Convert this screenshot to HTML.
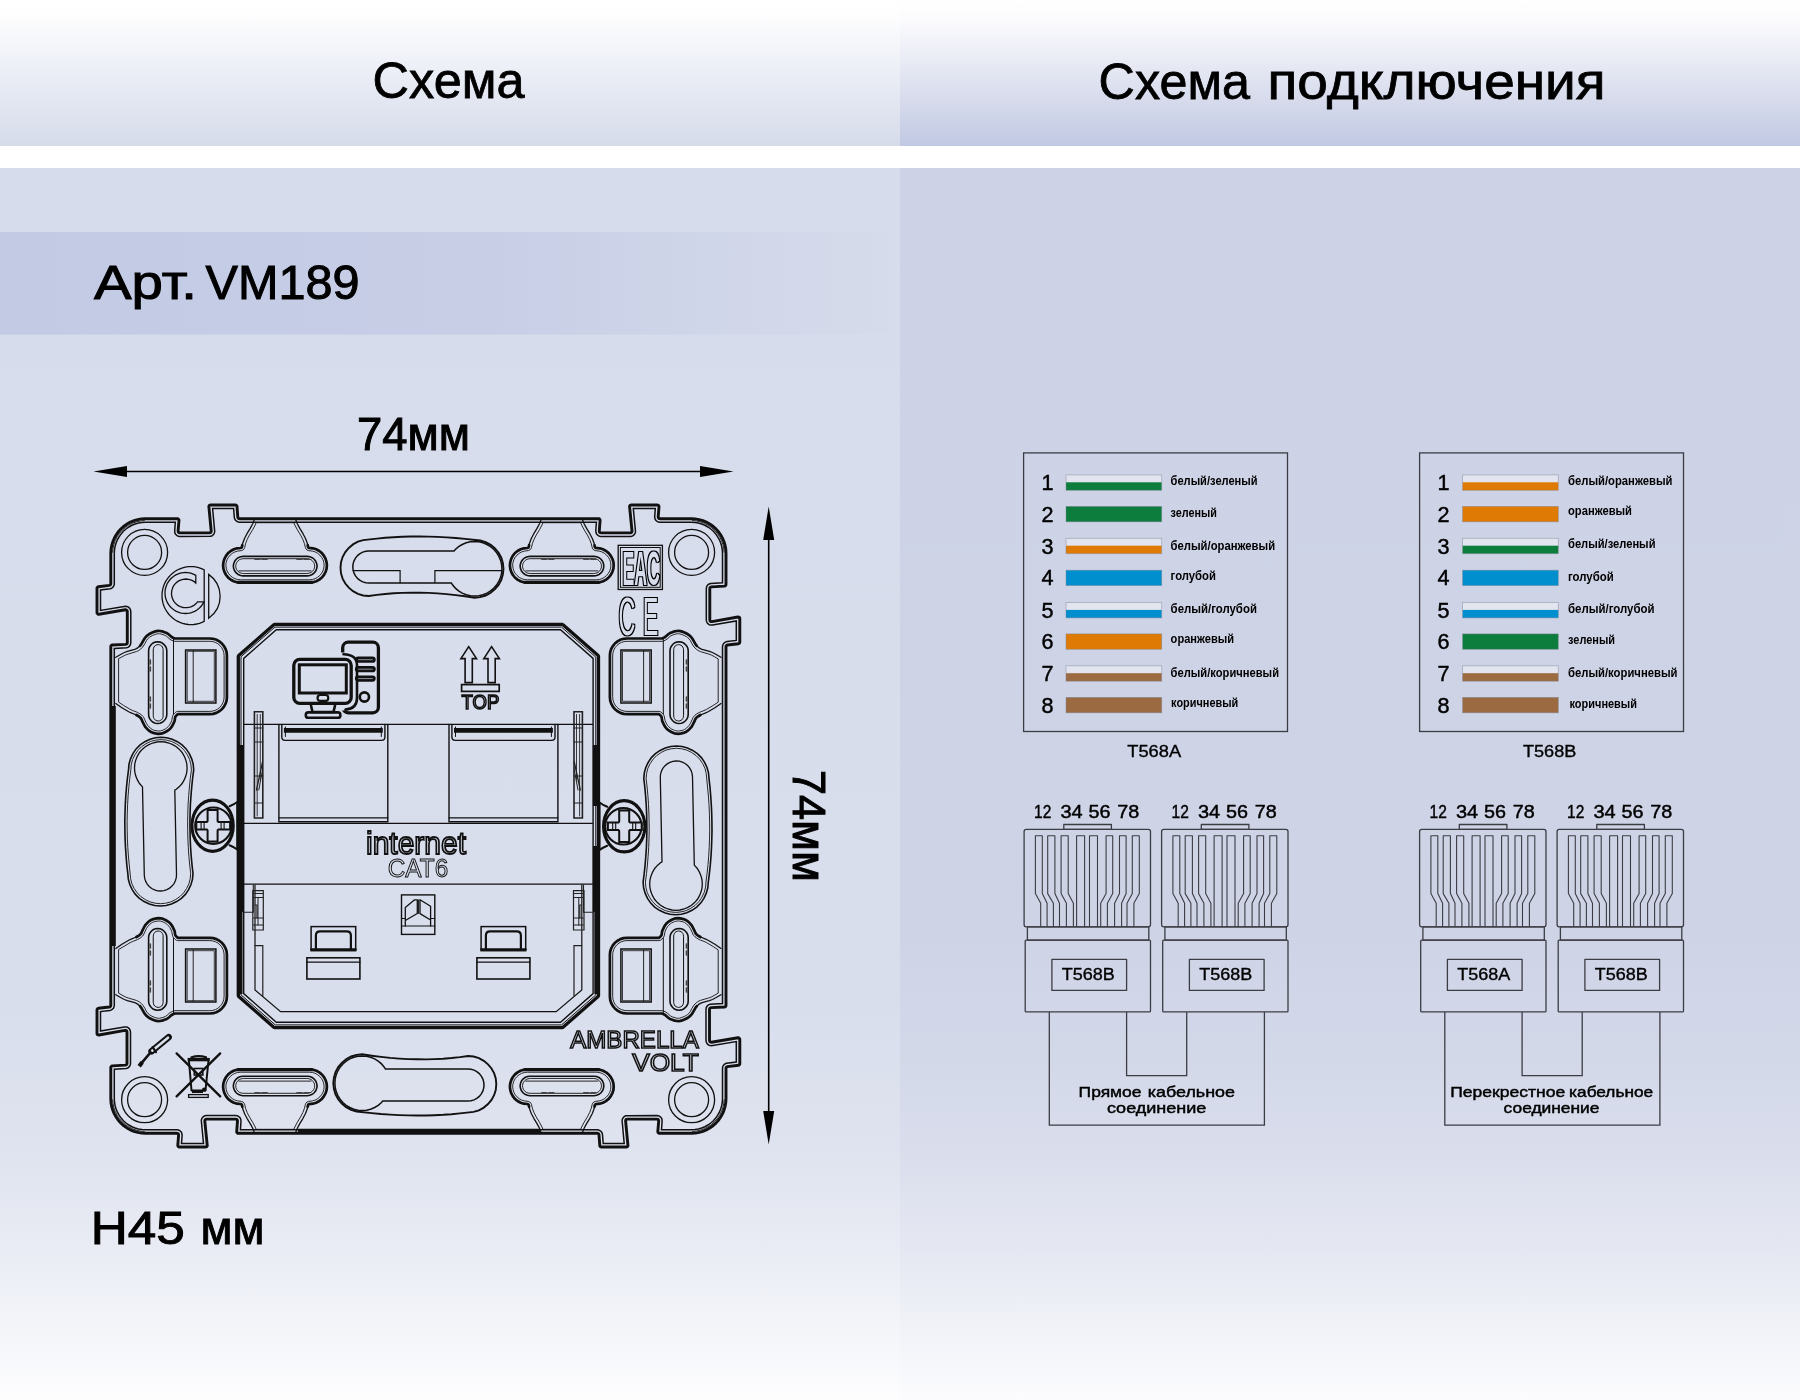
<!DOCTYPE html>
<html lang="ru"><head><meta charset="utf-8"><title>Схема подключения</title>
<style>
html,body{margin:0;padding:0;background:#fff;}
body{width:1800px;height:1400px;overflow:hidden;font-family:"Liberation Sans",sans-serif;}
svg{display:block;}
text{font-family:"Liberation Sans",sans-serif;}
</style></head><body>
<svg width="1800" height="1400" viewBox="0 0 1800 1400">
<defs>
<linearGradient id="hL" x1="0" y1="0" x2="0" y2="1"><stop offset="0" stop-color="#ffffff"/><stop offset="0.12" stop-color="#fdfdfe"/><stop offset="0.5" stop-color="#ebeef6"/><stop offset="1" stop-color="#d6dbea"/></linearGradient>
<linearGradient id="hR" x1="0" y1="0" x2="0" y2="1"><stop offset="0" stop-color="#ffffff"/><stop offset="0.12" stop-color="#fcfcfe"/><stop offset="0.5" stop-color="#e3e6f2"/><stop offset="1" stop-color="#c1c8e2"/></linearGradient>
<linearGradient id="bL" x1="0" y1="0" x2="0" y2="1"><stop offset="0" stop-color="#d7dcec"/><stop offset="0.675" stop-color="#d9deed"/><stop offset="0.797" stop-color="#dfe3ef"/><stop offset="0.878" stop-color="#e9ecf4"/><stop offset="0.935" stop-color="#f2f4f9"/><stop offset="1" stop-color="#fdfdfe"/></linearGradient>
<linearGradient id="bR" x1="0" y1="0" x2="0" y2="1"><stop offset="0" stop-color="#cdd2e6"/><stop offset="0.62" stop-color="#ced4e6"/><stop offset="0.72" stop-color="#d3d8e9"/><stop offset="0.797" stop-color="#d9ddec"/><stop offset="0.878" stop-color="#e5e8f2"/><stop offset="0.935" stop-color="#eff1f7"/><stop offset="1" stop-color="#fcfcfe"/></linearGradient>
<linearGradient id="art" x1="0" y1="0" x2="1" y2="0"><stop offset="0" stop-color="#c3cae4"/><stop offset="0.55" stop-color="#c7cee6"/><stop offset="0.8" stop-color="#d0d6e9"/><stop offset="1" stop-color="#d6dbeb"/></linearGradient>
</defs>
<g id="all" opacity="0.999">
<rect x="0" y="0" width="900" height="146" fill="url(#hL)"/>
<rect x="900" y="0" width="900" height="146" fill="url(#hR)"/>
<rect x="0" y="168" width="900" height="1232" fill="url(#bL)"/>
<rect x="900" y="168" width="900" height="1232" fill="url(#bR)"/>
<rect x="0" y="232" width="888" height="102.6" fill="url(#art)"/>

<g id="titles">
<text x="372.6" y="98" font-size="50" textLength="152" lengthAdjust="spacingAndGlyphs" stroke="#000" stroke-width="0.8">Схема</text>
<text y="99" font-size="50" stroke="#000" stroke-width="0.8"><tspan x="1098.6" textLength="151.4" lengthAdjust="spacingAndGlyphs">Схема</tspan> <tspan x="1267.6" textLength="338" lengthAdjust="spacingAndGlyphs">подключения</tspan></text>
<text y="298.5" font-size="48" stroke="#000" stroke-width="1.0"><tspan x="94" textLength="103" lengthAdjust="spacingAndGlyphs">Арт.</tspan> <tspan x="205.6" textLength="154" lengthAdjust="spacingAndGlyphs">VM189</tspan></text>
<text x="357" y="450" font-size="46" textLength="113" lengthAdjust="spacingAndGlyphs" stroke="#000" stroke-width="1.0">74мм</text>
<g transform="translate(793,770) rotate(90)"><text x="0" y="0" font-size="46" textLength="112" lengthAdjust="spacingAndGlyphs" stroke="#000" stroke-width="1.0">74мм</text></g>
<text y="1243.5" font-size="47" stroke="#000" stroke-width="1.0"><tspan x="90.8" textLength="94" lengthAdjust="spacingAndGlyphs">H45</tspan> <tspan x="200.6" textLength="64" lengthAdjust="spacingAndGlyphs">мм</tspan></text>
</g>
<g id="dims" stroke="#000" stroke-width="1.6" fill="#000">
<line x1="120" y1="471.5" x2="705" y2="471.5"/>
<path d="M93.5 471.5 L127 466 L127 477 Z" stroke="none"/>
<path d="M733.5 471.5 L700 466 L700 477 Z" stroke="none"/>
<line x1="768.7" y1="535" x2="768.7" y2="1115" />
<path d="M768.7 506.5 L763.2 540 L774.2 540 Z" stroke="none"/>
<path d="M768.7 1144.5 L763.2 1111 L774.2 1111 Z" stroke="none"/>
</g>
<g id="device" stroke-linecap="round">
<path d="M97 1033.4 L97.1 1034.1 L97.6 1034.6 L98.2 1034.9 L98.9 1035 L124.9 1030.4 L125.8 1030.4 L126.4 1030.7 L126.8 1031.2 L127 1032.1 L127 1063.3 L126.9 1064.1 L126.5 1064.6 L126.1 1064.9 L125.3 1065.1 L112.3 1065.9 L111.7 1066.1 L111.2 1066.4 L110.9 1066.9 L110.8 1067.5 L110.8 1098.7 L111 1102.7 L111.7 1106.5 L112.7 1110 L114.2 1113.6 L116.1 1117 L118.3 1120.2 L121 1123.2 L123.9 1125.8 L126.9 1127.9 L130.3 1129.8 L133.9 1131.3 L137.8 1132.4 L141.6 1133.1 L145.4 1133.3 L176.9 1133.3 L177.7 1133.5 L178.2 1133.8 L178.5 1134.4 L178.6 1135.2 L177.8 1145.3 L177.9 1145.9 L178.3 1146.5 L178.8 1146.9 L179.4 1147 L205.6 1147 L206.3 1146.9 L206.8 1146.5 L207.2 1145.9 L207.2 1145.2 L204.8 1121 L204.9 1120.2 L205.2 1119.7 L205.7 1119.3 L206.5 1119.1 L235.7 1119.1 L236.5 1119.3 L237 1119.6 L237.4 1120.2 L237.5 1121 L236.7 1131.6 L236.8 1132.2 L237.1 1132.8 L237.7 1133.2 L238.3 1133.3 L597.3 1133.3 L598 1133.4 L598.5 1133.7 L598.8 1134.2 L599 1134.9 L599.8 1145.5 L599.9 1146.1 L600.3 1146.6 L600.8 1146.9 L601.4 1147 L626.3 1147 L627 1146.9 L627.5 1146.5 L627.9 1145.9 L627.9 1145.2 L625.6 1121 L625.7 1120.2 L626 1119.6 L626.5 1119.3 L627.3 1119.1 L656.9 1119.1 L657.7 1119.3 L658.2 1119.6 L658.5 1120.2 L658.7 1121 L657.8 1131.6 L657.9 1132.2 L658.3 1132.8 L658.8 1133.2 L659.4 1133.3 L691.4 1133.3 L695.4 1133.1 L699.2 1132.4 L702.9 1131.3 L706.3 1129.9 L709.7 1128 L713 1125.7 L715.9 1123.1 L718.4 1120.3 L720.7 1117 L722.6 1113.6 L724 1110.2 L725.1 1106.3 L725.8 1102.5 L726 1098.7 L726 1068.4 L726.1 1067.7 L726.4 1067.2 L726.9 1066.8 L727.5 1066.6 L738.4 1065.3 L738.9 1065.1 L739.4 1064.7 L739.7 1064.3 L739.8 1063.7 L739.8 1039.4 L739.7 1038.7 L739.2 1038.2 L738.6 1037.8 L737.9 1037.8 L711.5 1042.2 L710.7 1042.1 L710.1 1041.8 L709.7 1041.3 L709.5 1040.4 L709.5 1009.4 L709.6 1008.6 L710 1008.1 L710.4 1007.8 L711.2 1007.6 L724.5 1007 L725.1 1006.8 L725.6 1006.5 L725.9 1006 L726 1005.4 L726 646.8 L726.1 646.1 L726.4 645.6 L726.9 645.2 L727.5 645 L738.4 643.7 L738.9 643.5 L739.4 643.1 L739.7 642.7 L739.8 642.1 L739.8 618.6 L739.7 617.9 L739.2 617.4 L738.6 617.1 L737.9 617 L711.9 621.6 L711 621.6 L710.4 621.3 L710 620.8 L709.8 619.9 L709.8 588.7 L709.9 587.9 L710.3 587.4 L710.7 587.1 L711.5 586.9 L724.5 586.1 L725.1 585.9 L725.6 585.6 L725.9 585.1 L726 584.5 L726 553.3 L725.8 549.3 L725.1 545.5 L724.1 542 L722.6 538.4 L720.6 534.8 L718.4 531.7 L715.9 528.9 L713 526.3 L709.7 524 L706.3 522.1 L702.9 520.7 L699 519.6 L695.2 518.9 L691.4 518.7 L659.9 518.7 L659.1 518.5 L658.6 518.2 L658.3 517.6 L658.2 516.8 L659 506.7 L658.9 506.1 L658.5 505.5 L658 505.1 L657.4 505 L631.2 505 L630.5 505.1 L630 505.5 L629.6 506.1 L629.6 506.8 L632 531 L631.9 531.8 L631.6 532.3 L631.1 532.7 L630.3 532.9 L601.1 532.9 L600.3 532.7 L599.8 532.4 L599.4 531.8 L599.3 531 L600.1 520.4 L600 519.8 L599.7 519.2 L599.1 518.8 L598.5 518.7 L239.5 518.7 L238.8 518.6 L238.3 518.3 L238 517.8 L237.8 517.1 L237 506.5 L236.9 505.9 L236.5 505.4 L236 505.1 L235.4 505 L210.5 505 L209.8 505.1 L209.3 505.5 L208.9 506.1 L208.9 506.8 L211.2 531 L211.1 531.8 L210.8 532.4 L210.3 532.7 L209.5 532.9 L179.9 532.9 L179.1 532.7 L178.6 532.4 L178.3 531.8 L178.1 531 L179 520.4 L178.9 519.8 L178.5 519.2 L178 518.8 L177.4 518.7 L145.4 518.7 L141.4 518.9 L137.6 519.6 L134.1 520.6 L130.5 522.1 L126.9 524.1 L123.8 526.3 L121 528.8 L118.4 531.7 L116.1 535 L114.3 538.2 L112.8 541.8 L111.7 545.7 L111 549.5 L110.8 553.3 L110.8 583.6 L110.7 584.3 L110.4 584.8 L109.9 585.2 L109.3 585.4 L98.4 586.7 L97.9 586.9 L97.4 587.3 L97.1 587.7 L97 588.3 L97 612.6 L97.1 613.3 L97.6 613.8 L98.2 614.2 L98.9 614.2 L125.3 609.8 L126.1 609.9 L126.7 610.2 L127.1 610.7 L127.3 611.6 L127.3 642.6 L127.2 643.4 L126.8 643.9 L126.4 644.2 L125.6 644.4 L112.3 645 L111.7 645.2 L111.2 645.5 L110.9 646 L110.8 646.6 L110.8 1005.2 L110.7 1005.9 L110.4 1006.4 L109.9 1006.8 L109.3 1007 L98.4 1008.3 L97.9 1008.5 L97.4 1008.9 L97.1 1009.3 L97 1009.9Z" fill="none" stroke="#111" stroke-width="2.9" stroke-linejoin="round"/>
<path d="M100.5 1031.1 L124.3 1026.9 L125.1 1026.9 L126 1026.9 L127.4 1027.3 L128 1027.6 L129.2 1028.6 L129.6 1029.1 L130.2 1030.5 L130.5 1032.1 L130.5 1063.3 L130.3 1064.7 L129.8 1066 L129.5 1066.4 L128.1 1067.8 L126.9 1068.3 L126.2 1068.5 L114.3 1069.3 L114.3 1098.6 L114.5 1102.2 L115.1 1105.6 L116.1 1109 L117.4 1112.2 L119.1 1115.2 L121.1 1118.1 L123.4 1120.7 L126 1123 L128.9 1125 L131.9 1126.7 L135.1 1128 L138.5 1129 L141.9 1129.6 L145.5 1129.8 L176.9 1129.8 L178.4 1130 L179.7 1130.6 L180.2 1131 L181.2 1132 L181.5 1132.6 L182 1133.9 L182.1 1135.5 L181.5 1143.5 L203.5 1143.5 L201.3 1120.6 L201.4 1119.8 L201.9 1118.5 L202.2 1117.9 L203.2 1116.8 L203.7 1116.4 L205 1115.8 L206.5 1115.6 L235.7 1115.6 L237.2 1115.8 L238.5 1116.4 L239 1116.8 L240 1117.8 L240.4 1118.4 L240.8 1119.7 L241 1121.2 L240.4 1129.8 L597.3 1129.8 L598.6 1130 L600.3 1130.8 L601.3 1131.7 L602.2 1133.3 L602.5 1134.7 L603.2 1143.5 L624.2 1143.5 L622.1 1120.6 L622.2 1119.8 L622.7 1118.4 L623 1117.9 L624 1116.8 L624.5 1116.4 L625.8 1115.8 L626.6 1115.7 L656.9 1115.6 L658.4 1115.8 L659.7 1116.4 L660.2 1116.8 L661.2 1117.8 L661.6 1118.4 L662 1119.7 L662.1 1121.3 L661.5 1129.8 L691.3 1129.8 L694.9 1129.6 L698.3 1129 L701.7 1128 L704.9 1126.7 L707.9 1125 L710.8 1123 L713.4 1120.7 L715.7 1118.1 L717.7 1115.2 L719.4 1112.2 L720.7 1109 L721.7 1105.6 L722.3 1102.2 L722.5 1098.6 L722.5 1068.4 L722.7 1067 L723.1 1065.8 L724.3 1064.4 L724.7 1064.1 L725.8 1063.5 L726.5 1063.3 L736.3 1062 L736.3 1041.6 L711.3 1045.7 L710.5 1045.6 L709 1045.2 L708.5 1044.9 L707.3 1043.9 L706.9 1043.4 L706.3 1042 L706 1040.4 L706 1009.4 L706.2 1008 L706.7 1006.7 L707 1006.2 L708.4 1004.9 L709.6 1004.4 L710.3 1004.2 L722.5 1003.6 L722.5 646.8 L722.7 645.4 L723.4 643.8 L724.3 642.8 L725.8 641.9 L727.1 641.5 L736.3 640.4 L736.3 620.9 L712.5 625.1 L711.7 625.1 L710.8 625.1 L709.4 624.7 L708.8 624.4 L707.6 623.4 L707.2 622.9 L706.6 621.5 L706.4 620.7 L706.3 619.9 L706.3 588.7 L706.5 587.3 L707 586 L708.2 584.6 L708.7 584.2 L709.9 583.7 L710.6 583.5 L722.5 582.7 L722.5 553.4 L722.3 549.8 L721.7 546.4 L720.7 543 L719.4 539.8 L717.7 536.8 L715.7 533.9 L713.4 531.3 L710.8 529 L707.9 527 L704.9 525.3 L701.7 524 L698.3 523 L694.9 522.4 L691.3 522.2 L659.9 522.2 L658.4 522 L657.1 521.4 L656.6 521 L655.6 520 L655.3 519.4 L654.8 518.1 L654.7 516.5 L655.3 508.5 L633.3 508.5 L635.5 531.4 L635.4 532.2 L634.9 533.5 L634.6 534.1 L633.6 535.2 L633.1 535.6 L631.8 536.2 L630.3 536.4 L601.1 536.4 L599.6 536.2 L598.3 535.6 L597.8 535.2 L596.8 534.2 L596.4 533.6 L596 532.3 L595.8 530.8 L596.4 522.2 L239.5 522.2 L238.2 522 L236.5 521.2 L235.5 520.3 L234.6 518.7 L234.3 517.3 L233.6 508.5 L212.6 508.5 L214.7 531.4 L214.6 532.2 L214.1 533.6 L213.8 534.1 L212.8 535.2 L212.3 535.6 L211 536.2 L210.2 536.3 L179.9 536.4 L178.4 536.2 L177.1 535.6 L176.6 535.2 L175.6 534.2 L175.2 533.6 L174.8 532.3 L174.7 530.7 L175.3 522.2 L145.5 522.2 L141.9 522.4 L138.5 523 L135.1 524 L131.9 525.3 L128.9 527 L126 529 L123.4 531.3 L121.1 533.9 L119.1 536.8 L117.4 539.8 L116.1 543 L115.1 546.4 L114.5 549.8 L114.3 553.4 L114.3 583.6 L114.1 585 L113.7 586.2 L112.5 587.6 L112.1 587.9 L111 588.5 L110.3 588.7 L100.5 590 L100.5 610.4 L125.5 606.3 L126.3 606.4 L127.8 606.8 L128.3 607.1 L129.5 608.1 L129.9 608.6 L130.5 610 L130.8 611.6 L130.8 642.6 L130.6 644 L130.1 645.3 L128.9 646.7 L128.4 647.1 L127.2 647.6 L126.5 647.8 L114.3 648.4 L114.3 1005.2 L114.1 1006.6 L113.4 1008.2 L112.1 1009.5 L111 1010.1 L109.7 1010.5 L100.5 1011.6Z" fill="none" stroke="#111" stroke-width="1.5"/>
<path d="M112.7 552.2 L113.1 548.1 L114 544.1 L115.4 540.3 L117.3 536.6 L119.6 533.2 L122.3 530.2 L125.3 527.5 L128.7 525.2 L132.4 523.3 L136.2 521.9 L140.2 521 L144.3 520.6" fill="none" stroke="#111" stroke-width="0.9"/>
<path d="M692.5 520.6 L696.6 521 L700.6 521.9 L704.4 523.3 L708.1 525.2 L711.5 527.5 L714.5 530.2 L717.2 533.2 L719.5 536.6 L721.4 540.3 L722.8 544.1 L723.7 548.1 L724.1 552.2" fill="none" stroke="#111" stroke-width="0.9"/>
<path d="M724.1 1099.8 L723.7 1103.9 L722.8 1107.9 L721.4 1111.7 L719.5 1115.4 L717.2 1118.8 L714.5 1121.8 L711.5 1124.5 L708.1 1126.8 L704.4 1128.7 L700.6 1130.1 L696.6 1131 L692.5 1131.4" fill="none" stroke="#111" stroke-width="0.9"/>
<path d="M144.3 1131.4 L140.2 1131 L136.2 1130.1 L132.4 1128.7 L128.7 1126.8 L125.3 1124.5 L122.3 1121.8 L119.6 1118.8 L117.3 1115.4 L115.4 1111.7 L114 1107.9 L113.1 1103.9 L112.7 1099.8" fill="none" stroke="#111" stroke-width="0.9"/>
<path d="M113.3 706 V946" fill="none" stroke="#111" stroke-width="5.0" stroke-linecap="butt"/>
<path d="M298 1130.9 H540" fill="none" stroke="#111" stroke-width="4.4" stroke-linecap="butt"/>
<circle cx="144.6" cy="552.4" r="23" fill="none" stroke="#111" stroke-width="1.3"/>
<circle cx="144.6" cy="552.4" r="17" fill="none" stroke="#111" stroke-width="1.3"/>
<circle cx="691.6" cy="552.4" r="23" fill="none" stroke="#111" stroke-width="1.3"/>
<circle cx="691.6" cy="552.4" r="17" fill="none" stroke="#111" stroke-width="1.3"/>
<circle cx="144.6" cy="1099.7" r="23" fill="none" stroke="#111" stroke-width="1.3"/>
<circle cx="144.6" cy="1099.7" r="17" fill="none" stroke="#111" stroke-width="1.3"/>
<circle cx="691.6" cy="1099.7" r="23" fill="none" stroke="#111" stroke-width="1.3"/>
<circle cx="691.6" cy="1099.7" r="17" fill="none" stroke="#111" stroke-width="1.3"/>
<path d="M240.5 548 L237.1 548.3 L233.9 549.3 L230.7 551 L228.1 553.1 L226 555.8 L224.4 558.8 L223.5 561.8 L223.1 565.2 L223.4 568.6 L224.5 572 L226.1 575 L228.2 577.6 L230.9 579.7 L233.7 581.2 L236.9 582.2 L240.4 582.6 L309.6 582.6 L313.1 582.2 L316.3 581.2 L319.3 579.6 L321.9 577.5 L324 574.8 L325.6 571.8 L326.6 568.6 L326.9 565.2 L326.5 561.8 L325.5 558.6 L324 555.8 L321.9 553.1 L319.3 551 L316.1 549.3 L312.9 548.3 L309 547.9 L308.5 547.6 L308.1 547.1 L307.7 545.2 M242.3 545.2 L241.9 547.1 L241.5 547.6 L241 547.9 L240.5 548" fill="none" stroke="#111" stroke-width="2.7" stroke-linejoin="round"/>
<path d="M307.7 545.2 L307.2 542.9 L305.4 538.2 L303 533.7 L299.8 528.4 L297.3 523.8 L295.9 520.2 M254.1 520.2 L252.7 523.8 L250.2 528.4 L247 533.7 L244.6 538.2 L242.8 542.9 L242.3 545.2" fill="none" stroke="#111" stroke-width="1.3" stroke-linejoin="round"/>
<path d="M225.9 565.3 L226.2 568.1 L227 570.8 L228.4 573.3 L230.2 575.5 L232.4 577.3 L234.9 578.7 L237.6 579.5 L240.5 579.8 L309.5 579.8 L312.4 579.5 L315.1 578.7 L317.6 577.3 L319.8 575.5 L321.6 573.3 L323 570.8 L323.8 568.1 L324.1 565.3 L323.8 562.5 L323 559.8 L321.6 557.3 L319.8 555.1 L317.6 553.3 L315.1 551.9 L312.4 551.1 L308.5 550.6 L307 550 L305.9 548.8 L305.3 547.3 L304.5 543.8 L302.8 539.4 L300.6 535.1 L297.3 529.7 L294.8 525 L293.9 522.7 L256.1 522.7 L255.2 525 L252.7 529.7 L249.4 535.1 L247.2 539.4 L245.5 543.8 L244.7 547.6 L244.1 548.8 L243 550 L241.5 550.6 L237.6 551.1 L234.9 551.9 L232.4 553.3 L230.2 555.1 L228.4 557.3 L227 559.8 L226.2 562.5Z" fill="none" stroke="#111" stroke-width="0.9"/>
<path d="M307.3 575.9 L309.8 575.5 L312.2 574.5 L314.2 573 L315.7 571 L316.7 568.6 L317.1 566.1 L316.7 563.6 L315.7 561.2 L314.2 559.2 L312.2 557.7 L309.8 556.7 L307.3 556.4 L243.1 556.4 L240.6 556.7 L238.2 557.7 L236.2 559.2 L234.7 561.2 L233.7 563.6 L233.3 566.1 L233.7 568.6 L234.7 571 L236.2 573 L238.2 574.5 L240.6 575.5 L243.1 575.9Z" fill="none" stroke="#111" stroke-width="1.6"/>
<path d="M307.3 573.5 L309.2 573.2 L311 572.5 L312.5 571.3 L313.7 569.8 L314.4 568 L314.7 566.1 L314.4 564.2 L313.7 562.4 L312.5 560.9 L311 559.7 L309.2 559 L307.3 558.7 L243.1 558.7 L241.2 559 L239.4 559.7 L237.9 560.9 L236.7 562.4 L236 564.2 L235.7 566.1 L236 568 L236.7 569.8 L237.9 571.3 L239.4 572.5 L241.2 573.2 L243.1 573.5Z" fill="none" stroke="#111" stroke-width="0.9"/>
<path d="M238 582.3 L312 582.3" fill="none" stroke="#111" stroke-width="3.2"/>
<path d="M239 570.9 L311 570.9" fill="none" stroke="#111" stroke-width="0.9"/>
<path d="M255 559.2 L260 559.2" fill="none" stroke="#444" stroke-width="1.6"/>
<path d="M262 559.2 L267 559.2" fill="none" stroke="#444" stroke-width="1.6"/>
<path d="M297 559.2 L302 559.2" fill="none" stroke="#444" stroke-width="1.6"/>
<path d="M304 559.2 L309 559.2" fill="none" stroke="#444" stroke-width="1.6"/>
<path d="M240.5 1104 L237.1 1103.7 L233.9 1102.7 L230.7 1101 L228.1 1098.9 L226.1 1096.4 L224.5 1093.4 L223.5 1090.2 L223.1 1086.8 L223.4 1083.4 L224.5 1080 L226.1 1077 L228.2 1074.4 L230.9 1072.3 L233.7 1070.8 L236.9 1069.8 L240.4 1069.4 L309.6 1069.4 L313.1 1069.8 L316.3 1070.8 L319.3 1072.4 L321.9 1074.5 L324 1077.2 L325.6 1080.2 L326.6 1083.4 L326.9 1086.8 L326.6 1090 L325.6 1093.2 L324 1096.2 L321.9 1098.9 L319.3 1101 L316.1 1102.7 L312.9 1103.7 L309 1104.1 L308.5 1104.4 L308.1 1104.9 L307.7 1106.8 M242.3 1106.8 L241.9 1104.9 L241.5 1104.4 L241 1104.1 L240.5 1104" fill="none" stroke="#111" stroke-width="2.7" stroke-linejoin="round"/>
<path d="M307.7 1106.8 L307.2 1109.1 L305.4 1113.8 L303 1118.3 L299.8 1123.6 L297.3 1128.2 L295.9 1131.8 M254.1 1131.8 L252.7 1128.2 L250.2 1123.6 L247 1118.3 L244.6 1113.8 L242.8 1109.1 L242.3 1106.8" fill="none" stroke="#111" stroke-width="1.3" stroke-linejoin="round"/>
<path d="M225.9 1086.7 L226.2 1089.5 L227 1092.2 L228.4 1094.7 L230.2 1096.9 L232.4 1098.7 L234.9 1100.1 L237.6 1100.9 L241.5 1101.4 L243 1102 L244.1 1103.2 L244.7 1104.4 L245.5 1108.2 L247.2 1112.6 L249.4 1116.9 L252.7 1122.3 L255.2 1127 L256.1 1129.3 L293.9 1129.3 L294.8 1127 L297.3 1122.3 L300.6 1116.9 L302.8 1112.6 L304.5 1108.2 L305.3 1104.7 L305.9 1103.2 L307 1102 L308.5 1101.4 L312.4 1100.9 L315.1 1100.1 L317.6 1098.7 L319.8 1096.9 L321.6 1094.7 L323 1092.2 L323.8 1089.5 L324.1 1086.7 L323.8 1083.9 L323 1081.2 L321.6 1078.7 L319.8 1076.5 L317.6 1074.7 L315.1 1073.3 L312.4 1072.5 L309.5 1072.2 L240.5 1072.2 L237.6 1072.5 L234.9 1073.3 L232.4 1074.7 L230.2 1076.5 L228.4 1078.7 L227 1081.2 L226.2 1083.9Z" fill="none" stroke="#111" stroke-width="0.9"/>
<path d="M307.3 1076.2 L309.8 1076.5 L312.2 1077.5 L314.2 1079 L315.7 1081 L316.7 1083.4 L317.1 1085.9 L316.7 1088.4 L315.7 1090.8 L314.2 1092.8 L312.2 1094.3 L309.8 1095.3 L307.3 1095.7 L243.1 1095.7 L240.6 1095.3 L238.2 1094.3 L236.2 1092.8 L234.7 1090.8 L233.7 1088.4 L233.3 1085.9 L233.7 1083.4 L234.7 1081 L236.2 1079 L238.2 1077.5 L240.6 1076.5 L243.1 1076.2Z" fill="none" stroke="#111" stroke-width="1.6"/>
<path d="M307.3 1078.5 L309.2 1078.8 L311 1079.5 L312.5 1080.7 L313.7 1082.2 L314.4 1084 L314.7 1085.9 L314.4 1087.8 L313.7 1089.6 L312.5 1091.1 L311 1092.3 L309.2 1093 L307.3 1093.3 L243.1 1093.3 L241.2 1093 L239.4 1092.3 L237.9 1091.1 L236.7 1089.6 L236 1087.8 L235.7 1085.9 L236 1084 L236.7 1082.2 L237.9 1080.7 L239.4 1079.5 L241.2 1078.8 L243.1 1078.5Z" fill="none" stroke="#111" stroke-width="0.9"/>
<path d="M238 1069.7 L312 1069.7" fill="none" stroke="#111" stroke-width="3.2"/>
<path d="M239 1081.1 L311 1081.1" fill="none" stroke="#111" stroke-width="0.9"/>
<path d="M255 1092.8 L260 1092.8" fill="none" stroke="#444" stroke-width="1.6"/>
<path d="M262 1092.8 L267 1092.8" fill="none" stroke="#444" stroke-width="1.6"/>
<path d="M297 1092.8 L302 1092.8" fill="none" stroke="#444" stroke-width="1.6"/>
<path d="M304 1092.8 L309 1092.8" fill="none" stroke="#444" stroke-width="1.6"/>
<path d="M527.3 548 L523.9 548.3 L520.7 549.3 L517.5 551 L515 553 L512.9 555.6 L511.3 558.6 L510.3 561.8 L509.9 565.4 L510.3 568.8 L511.3 572 L512.9 575 L514.9 577.5 L517.5 579.6 L520.5 581.2 L523.7 582.2 L527.2 582.6 L596.4 582.6 L599.9 582.2 L603.1 581.2 L606.1 579.6 L608.7 577.5 L610.8 574.8 L612.4 571.8 L613.4 568.6 L613.7 565.2 L613.4 562 L612.4 558.8 L610.8 555.8 L608.7 553.1 L606.1 551 L602.9 549.3 L599.7 548.3 L595.8 547.9 L595.3 547.6 L594.9 547.1 L594.5 545.2 M529.1 545.2 L528.7 547.1 L528.3 547.6 L527.8 547.9 L527.3 548" fill="none" stroke="#111" stroke-width="2.7" stroke-linejoin="round"/>
<path d="M594.5 545.2 L594 542.9 L592.2 538.2 L589.8 533.7 L586.6 528.4 L584.1 523.8 L582.7 520.2 M540.9 520.2 L539.5 523.8 L537 528.4 L533.8 533.7 L531.4 538.2 L529.6 542.9 L529.1 545.2" fill="none" stroke="#111" stroke-width="1.3" stroke-linejoin="round"/>
<path d="M512.7 565.3 L513 568.1 L513.8 570.8 L515.2 573.3 L517 575.5 L519.2 577.3 L521.7 578.7 L524.4 579.5 L527.3 579.8 L596.3 579.8 L599.2 579.5 L601.9 578.7 L604.4 577.3 L606.6 575.5 L608.4 573.3 L609.8 570.8 L610.6 568.1 L610.9 565.3 L610.6 562.5 L609.8 559.8 L608.4 557.3 L606.6 555.1 L604.4 553.3 L601.9 551.9 L599.2 551.1 L595.3 550.6 L593.8 550 L592.7 548.8 L592.1 547.3 L591.3 543.8 L589.6 539.4 L587.4 535.1 L584.1 529.7 L581.6 525 L580.7 522.7 L542.9 522.7 L542 525 L539.5 529.7 L536.2 535.1 L534 539.4 L532.3 543.8 L531.5 547.6 L530.9 548.8 L529.8 550 L528.3 550.6 L524.4 551.1 L521.7 551.9 L519.2 553.3 L517 555.1 L515.2 557.3 L513.8 559.8 L513 562.5Z" fill="none" stroke="#111" stroke-width="0.9"/>
<path d="M594.1 575.9 L596.6 575.5 L599 574.5 L601 573 L602.5 571 L603.5 568.6 L603.8 566.1 L603.5 563.6 L602.5 561.2 L601 559.2 L599 557.7 L596.6 556.7 L594.1 556.4 L529.9 556.4 L527.4 556.7 L525 557.7 L523 559.2 L521.5 561.2 L520.5 563.6 L520.1 566.1 L520.5 568.6 L521.5 571 L523 573 L525 574.5 L527.4 575.5 L529.9 575.9Z" fill="none" stroke="#111" stroke-width="1.6"/>
<path d="M594.1 573.5 L596 573.2 L597.8 572.5 L599.3 571.3 L600.5 569.8 L601.2 568 L601.5 566.1 L601.2 564.2 L600.5 562.4 L599.3 560.9 L597.8 559.7 L596 559 L594.1 558.7 L529.9 558.7 L528 559 L526.2 559.7 L524.7 560.9 L523.5 562.4 L522.8 564.2 L522.5 566.1 L522.8 568 L523.5 569.8 L524.7 571.3 L526.2 572.5 L528 573.2 L529.9 573.5Z" fill="none" stroke="#111" stroke-width="0.9"/>
<path d="M524.8 582.3 L598.8 582.3" fill="none" stroke="#111" stroke-width="3.2"/>
<path d="M525.8 570.9 L597.8 570.9" fill="none" stroke="#111" stroke-width="0.9"/>
<path d="M541.8 559.2 L546.8 559.2" fill="none" stroke="#444" stroke-width="1.6"/>
<path d="M548.8 559.2 L553.8 559.2" fill="none" stroke="#444" stroke-width="1.6"/>
<path d="M583.8 559.2 L588.8 559.2" fill="none" stroke="#444" stroke-width="1.6"/>
<path d="M590.8 559.2 L595.8 559.2" fill="none" stroke="#444" stroke-width="1.6"/>
<path d="M527.3 1104 L523.9 1103.7 L520.7 1102.7 L517.5 1101 L514.9 1098.9 L512.8 1096.2 L511.2 1093.2 L510.3 1090.2 L509.9 1086.6 L510.3 1083.2 L511.3 1080 L512.9 1077 L515 1074.4 L517.5 1072.4 L520.5 1070.8 L523.7 1069.8 L527.2 1069.4 L596.4 1069.4 L599.9 1069.8 L603.1 1070.8 L606.1 1072.4 L608.7 1074.5 L610.8 1077.2 L612.4 1080.2 L613.4 1083.4 L613.7 1086.8 L613.4 1090 L612.4 1093.2 L610.8 1096.2 L608.7 1098.9 L605.9 1101.1 L602.9 1102.7 L599.7 1103.7 L595.8 1104.1 L595.3 1104.4 L594.9 1104.9 L594.5 1106.8 M529.1 1106.8 L528.7 1104.9 L528.3 1104.4 L527.8 1104.1 L527.3 1104" fill="none" stroke="#111" stroke-width="2.7" stroke-linejoin="round"/>
<path d="M594.5 1106.8 L594 1109.1 L592.2 1113.8 L589.8 1118.3 L586.6 1123.6 L584.1 1128.2 L582.7 1131.8 M540.9 1131.8 L539.5 1128.2 L537 1123.6 L533.8 1118.3 L531.4 1113.8 L529.6 1109.1 L529.1 1106.8" fill="none" stroke="#111" stroke-width="1.3" stroke-linejoin="round"/>
<path d="M512.7 1086.7 L513 1089.5 L513.8 1092.2 L515.2 1094.7 L517 1096.9 L519.2 1098.7 L521.7 1100.1 L524.4 1100.9 L528.3 1101.4 L529.8 1102 L530.9 1103.2 L531.5 1104.4 L532.3 1108.2 L534 1112.6 L536.2 1116.9 L539.5 1122.3 L542 1127 L542.9 1129.3 L580.7 1129.3 L581.6 1127 L584.1 1122.3 L587.4 1116.9 L589.6 1112.6 L591.3 1108.2 L592.1 1104.7 L592.7 1103.2 L593.8 1102 L595.3 1101.4 L599.2 1100.9 L601.9 1100.1 L604.4 1098.7 L606.6 1096.9 L608.4 1094.7 L609.8 1092.2 L610.6 1089.5 L610.9 1086.7 L610.6 1083.9 L609.8 1081.2 L608.4 1078.7 L606.6 1076.5 L604.4 1074.7 L601.9 1073.3 L599.2 1072.5 L596.3 1072.2 L527.3 1072.2 L524.4 1072.5 L521.7 1073.3 L519.2 1074.7 L517 1076.5 L515.2 1078.7 L513.8 1081.2 L513 1083.9Z" fill="none" stroke="#111" stroke-width="0.9"/>
<path d="M594.1 1076.2 L596.6 1076.5 L599 1077.5 L601 1079 L602.5 1081 L603.5 1083.4 L603.8 1085.9 L603.5 1088.4 L602.5 1090.8 L601 1092.8 L599 1094.3 L596.6 1095.3 L594.1 1095.7 L529.9 1095.7 L527.4 1095.3 L525 1094.3 L523 1092.8 L521.5 1090.8 L520.5 1088.4 L520.1 1085.9 L520.5 1083.4 L521.5 1081 L523 1079 L525 1077.5 L527.4 1076.5 L529.9 1076.2Z" fill="none" stroke="#111" stroke-width="1.6"/>
<path d="M594.1 1078.5 L596 1078.8 L597.8 1079.5 L599.3 1080.7 L600.5 1082.2 L601.2 1084 L601.5 1085.9 L601.2 1087.8 L600.5 1089.6 L599.3 1091.1 L597.8 1092.3 L596 1093 L594.1 1093.3 L529.9 1093.3 L528 1093 L526.2 1092.3 L524.7 1091.1 L523.5 1089.6 L522.8 1087.8 L522.5 1085.9 L522.8 1084 L523.5 1082.2 L524.7 1080.7 L526.2 1079.5 L528 1078.8 L529.9 1078.5Z" fill="none" stroke="#111" stroke-width="0.9"/>
<path d="M524.8 1069.7 L598.8 1069.7" fill="none" stroke="#111" stroke-width="3.2"/>
<path d="M525.8 1081.1 L597.8 1081.1" fill="none" stroke="#111" stroke-width="0.9"/>
<path d="M541.8 1092.8 L546.8 1092.8" fill="none" stroke="#444" stroke-width="1.6"/>
<path d="M548.8 1092.8 L553.8 1092.8" fill="none" stroke="#444" stroke-width="1.6"/>
<path d="M583.8 1092.8 L588.8 1092.8" fill="none" stroke="#444" stroke-width="1.6"/>
<path d="M590.8 1092.8 L595.8 1092.8" fill="none" stroke="#444" stroke-width="1.6"/>
<path d="M115.8 657.3 L120.6 654.5 L124.3 652.5 L127.4 651.3 L134.7 649.3 L136.4 648.6 L138 647.6 L140.1 645.8" fill="none" stroke="#111" stroke-width="1.3"/>
<path d="M136.4 715 L131.7 713.2 L128.7 711.8 L121.9 707.7 L115.8 703.5" fill="none" stroke="#111" stroke-width="1.3"/>
<path d="M140.1 645.8 L141.6 643.7 L144.3 638.8 L145.7 637 L147.5 635.3 L149.8 633.7 L152.9 632.2 L154.7 631.6 L156.5 631.1 L158.3 630.9 L160.1 631 L161.9 631.3 L163.7 631.9 L166.8 633.1 L168 633.8 L169.1 634.7 L171.6 637 L173.1 637.8 L174.6 638.5 L209.9 638.5 L213.2 638.8 L216.4 639.8 L219.3 641.4 L221.9 643.5 L224 646.1 L225.6 649 L226.6 652.2 L226.9 655.5 L226.9 698 L226.9 697.2 L226.6 700.5 L225.6 703.7 L224 706.6 L221.9 709.2 L219.3 711.3 L216.4 712.9 L213.2 713.9 L209.9 714.2 L177.7 714.2 L176.3 715.5 L175.3 716.8 L175.1 717.6 L174.7 720.6 L174.3 721.7 L172.3 725.8 L171.4 727.2 L170.4 728.4 L168.1 730.4 L165.5 732 L163.1 733.1 L160.8 733.7 L158.3 733.8 L155.4 733.4 L152.4 732.6 L151 732 L149.7 731.2 L147.4 729.2 L145.5 727.1 L144.7 726 L142.5 721.7 L141.5 719.3 L140.7 718 L139.2 716.7 L136.4 715" fill="none" stroke="#111" stroke-width="2.7" stroke-linejoin="round"/>
<path d="M118.6 658.9 L118.6 702.1 L123.4 705.3 L130.1 709.3 L132.8 710.6 L136.3 711.9 L137.7 712.5 L139.9 713.8 L141.8 715.2 L142.9 716.3 L143.7 717.4 L144.7 719.8 L146.5 723.6 L147.7 725.4 L150.4 728.2 L152.3 729.5 L153.4 730 L154.6 730.4 L157.2 730.9 L158.4 731 L160.4 730.9 L162.2 730.4 L163.2 730 L165.4 728.9 L166.5 728.1 L168.3 726.5 L169.1 725.6 L170.6 723.1 L171.7 720.7 L171.9 719.9 L172.4 716.8 L172.6 716 L173.3 714.6 L174.9 712.9 L175.8 712.1 L176.7 711.6 L177.7 711.4 L209.8 711.4 L212.7 711.1 L215.3 710.3 L217.8 709 L219.9 707.2 L221.7 705.1 L223 702.6 L223.8 700 L224.1 697.1 L224.1 655.6 L223.8 652.7 L223 650.1 L221.7 647.6 L219.9 645.5 L217.8 643.7 L215.3 642.4 L212.7 641.6 L209.8 641.3 L174.6 641.3 L173.5 641.1 L170.9 639.9 L169 638.5 L166.4 636.1 L164.3 635.1 L161.2 634.1 L159.7 633.8 L158.4 633.7 L157.1 633.9 L155.6 634.3 L152.5 635.5 L150.1 636.8 L149.3 637.4 L147.7 638.9 L146.6 640.3 L144.9 643.6 L142.8 647 L140.6 649.1 L138.8 650.5 L136.4 651.6 L128.3 654 L125.5 655 L122 656.9Z" fill="none" stroke="#111" stroke-width="0.9"/>
<path d="M148.6 714.4 L148.9 716.8 L149.8 718.9 L151.3 720.8 L153.1 722.3 L155.3 723.2 L157.7 723.5 L160.1 723.2 L162.2 722.3 L164.1 720.8 L165.6 718.9 L166.5 716.8 L166.8 714.4 L166.8 650.9 L166.5 648.5 L165.6 646.4 L164.1 644.5 L162.2 643 L160.1 642.1 L157.7 641.8 L155.3 642.1 L153.1 643 L151.3 644.5 L149.8 646.4 L148.9 648.5 L148.6 650.9Z" fill="none" stroke="#111" stroke-width="1.6"/>
<path d="M153.3 716.1 L153.5 717.4 L154 718.6 L154.7 719.6 L155.8 720.3 L156.9 720.8 L158.2 721 L159.5 720.8 L160.6 720.3 L161.7 719.6 L162.4 718.6 L162.9 717.4 L163.1 716.1 L163.1 649.5 L162.9 648.2 L162.4 647 L161.7 646 L160.6 645.3 L159.5 644.8 L158.2 644.6 L156.9 644.8 L155.8 645.3 L154.7 646 L154 647 L153.5 648.2 L153.3 649.5Z" fill="none" stroke="#111" stroke-width="1.0"/>
<path d="M185.6 650.1 L215.9 650.1 L215.9 702.9 L185.6 702.9Z" fill="none" stroke="#111" stroke-width="1.5"/>
<path d="M187.2 651.7 L187.2 701.3 L214.3 701.3 L214.3 651.7Z" fill="none" stroke="#111" stroke-width="0.8"/>
<path d="M193.2 651 L193.2 702" fill="none" stroke="#111" stroke-width="0.9"/>
<path d="M173.5 639 L173.5 714" fill="none" stroke="#111" stroke-width="1.0"/>
<path d="M150.3 660 L150.3 664" fill="none" stroke="#444" stroke-width="1.6"/>
<path d="M150.3 667 L150.3 671" fill="none" stroke="#444" stroke-width="1.6"/>
<path d="M150.3 697 L150.3 701" fill="none" stroke="#444" stroke-width="1.6"/>
<path d="M150.3 704 L150.3 708" fill="none" stroke="#444" stroke-width="1.6"/>
<path d="M115.8 994.7 L120.6 997.5 L124.3 999.5 L127.4 1000.7 L134.7 1002.7 L136.4 1003.4 L138 1004.4 L140.1 1006.2" fill="none" stroke="#111" stroke-width="1.3"/>
<path d="M136.4 937 L131.7 938.8 L128.7 940.2 L121.9 944.3 L115.8 948.5" fill="none" stroke="#111" stroke-width="1.3"/>
<path d="M140.1 1006.2 L141.6 1008.3 L144.3 1013.2 L145.7 1015 L147.5 1016.7 L149.8 1018.3 L152.9 1019.8 L154.7 1020.4 L156.5 1020.9 L158.3 1021.1 L160.1 1021 L161.9 1020.7 L163.7 1020.1 L166.8 1018.9 L168 1018.2 L169.1 1017.3 L171.6 1015 L173.1 1014.2 L174.6 1013.5 L209.9 1013.5 L213.2 1013.2 L216.4 1012.2 L219.3 1010.6 L221.9 1008.5 L224 1005.9 L225.6 1003 L226.6 999.8 L226.9 996.5 L226.9 954 L226.9 954.8 L226.6 951.5 L225.6 948.3 L224 945.4 L221.9 942.8 L219.3 940.7 L216.4 939.1 L213.2 938.1 L209.9 937.8 L177.7 937.8 L176.3 936.5 L175.3 935.2 L175.1 934.4 L174.7 931.4 L174.3 930.3 L172.3 926.2 L171.4 924.8 L170.4 923.6 L168.1 921.6 L165.5 920 L163.1 918.9 L160.8 918.3 L158.3 918.2 L155.4 918.6 L152.4 919.4 L151 920 L149.7 920.8 L147.4 922.8 L145.5 924.9 L144.7 926 L142.5 930.3 L141.5 932.7 L140.7 934 L139.2 935.3 L136.4 937" fill="none" stroke="#111" stroke-width="2.7" stroke-linejoin="round"/>
<path d="M118.6 949.9 L118.6 993.1 L122 995.1 L125.5 997 L128.3 998 L136.4 1000.4 L137.8 1001 L139.6 1002.1 L141.4 1003.6 L142.9 1005.2 L144.9 1008.4 L146.2 1011.1 L147.1 1012.3 L149.3 1014.6 L151.1 1015.8 L154 1017.2 L155.6 1017.7 L157.1 1018.1 L158.4 1018.3 L159.7 1018.2 L162.8 1017.5 L165.5 1016.4 L167.2 1015.2 L169 1013.5 L170.1 1012.6 L172.6 1011.3 L173.5 1010.9 L174.6 1010.7 L209.8 1010.7 L212.7 1010.4 L215.3 1009.6 L217.8 1008.3 L219.9 1006.5 L221.7 1004.4 L223 1001.9 L223.8 999.3 L224.1 996.4 L224.1 954.9 L223.8 952 L223 949.4 L221.7 946.9 L219.9 944.8 L217.8 943 L215.3 941.7 L212.7 940.9 L209.8 940.6 L177.7 940.6 L176.7 940.4 L175.8 939.9 L174.4 938.6 L173.6 937.8 L172.9 936.6 L172.4 935.2 L171.9 932.1 L171.7 931.3 L169.9 927.6 L168.3 925.5 L167.5 924.7 L165.4 923.1 L164.2 922.5 L162.2 921.6 L160.4 921.1 L159.4 921 L157.2 921.1 L154.6 921.6 L152.3 922.5 L151.3 923.1 L149.4 924.7 L147.7 926.6 L146.5 928.4 L143.4 935 L142.7 936 L141 937.5 L139.8 938.3 L137.5 939.6 L132.8 941.4 L130.1 942.7 L123.4 946.7Z" fill="none" stroke="#111" stroke-width="0.9"/>
<path d="M148.6 937.6 L148.9 935.2 L149.8 933.1 L151.3 931.2 L153.1 929.7 L155.3 928.8 L157.7 928.5 L160.1 928.8 L162.2 929.7 L164.1 931.2 L165.6 933.1 L166.5 935.2 L166.8 937.6 L166.8 1001.1 L166.5 1003.5 L165.6 1005.6 L164.1 1007.5 L162.2 1009 L160.1 1009.9 L157.7 1010.2 L155.3 1009.9 L153.1 1009 L151.3 1007.5 L149.8 1005.6 L148.9 1003.5 L148.6 1001.1Z" fill="none" stroke="#111" stroke-width="1.6"/>
<path d="M153.3 935.9 L153.5 934.6 L154 933.4 L154.7 932.4 L155.8 931.7 L156.9 931.2 L158.2 931 L159.5 931.2 L160.6 931.7 L161.7 932.4 L162.4 933.4 L162.9 934.6 L163.1 935.9 L163.1 1002.5 L162.9 1003.8 L162.4 1005 L161.7 1006 L160.6 1006.7 L159.5 1007.2 L158.2 1007.4 L156.9 1007.2 L155.8 1006.7 L154.7 1006 L154 1005 L153.5 1003.8 L153.3 1002.5Z" fill="none" stroke="#111" stroke-width="1.0"/>
<path d="M185.6 1001.9 L215.9 1001.9 L215.9 949.1 L185.6 949.1Z" fill="none" stroke="#111" stroke-width="1.5"/>
<path d="M187.2 1000.3 L187.2 950.7 L214.3 950.7 L214.3 1000.3Z" fill="none" stroke="#111" stroke-width="0.8"/>
<path d="M193.2 1001 L193.2 950" fill="none" stroke="#111" stroke-width="0.9"/>
<path d="M173.5 1013 L173.5 938" fill="none" stroke="#111" stroke-width="1.0"/>
<path d="M150.3 992 L150.3 988" fill="none" stroke="#444" stroke-width="1.6"/>
<path d="M150.3 985 L150.3 981" fill="none" stroke="#444" stroke-width="1.6"/>
<path d="M150.3 955 L150.3 951" fill="none" stroke="#444" stroke-width="1.6"/>
<path d="M150.3 948 L150.3 944" fill="none" stroke="#444" stroke-width="1.6"/>
<path d="M721 657.3 L716.2 654.5 L712.5 652.5 L709.4 651.3 L702.1 649.3 L700.4 648.6 L698.8 647.6 L696.7 645.8" fill="none" stroke="#111" stroke-width="1.3"/>
<path d="M700.4 715 L705.1 713.2 L708.1 711.8 L714.9 707.7 L721 703.5" fill="none" stroke="#111" stroke-width="1.3"/>
<path d="M696.7 645.8 L695.2 643.7 L692.5 638.8 L691.1 637 L689.3 635.3 L687 633.7 L683.9 632.2 L682.1 631.6 L680.3 631.1 L678.5 630.9 L676.7 631 L674.9 631.3 L673.1 631.9 L670 633.1 L668.8 633.8 L667.7 634.7 L665.2 637 L663.7 637.8 L662.2 638.5 L626.9 638.5 L623.6 638.8 L620.4 639.8 L617.5 641.4 L614.9 643.5 L612.8 646.1 L611.2 649 L610.2 652.2 L609.9 655.5 L609.9 698 L609.9 697.2 L610.2 700.5 L611.2 703.7 L612.8 706.6 L614.9 709.2 L617.5 711.3 L620.4 712.9 L623.6 713.9 L626.9 714.2 L659.1 714.2 L660.5 715.5 L661.5 716.8 L661.7 717.6 L662.1 720.6 L662.5 721.7 L664.5 725.8 L665.4 727.2 L666.4 728.4 L668.7 730.4 L671.3 732 L673.7 733.1 L676 733.7 L678.5 733.8 L681.4 733.4 L684.4 732.6 L685.8 732 L687.1 731.2 L689.4 729.2 L691.3 727.1 L692.1 726 L694.3 721.7 L695.3 719.3 L696.1 718 L697.6 716.7 L700.4 715" fill="none" stroke="#111" stroke-width="2.7" stroke-linejoin="round"/>
<path d="M612.7 697.1 L613 700 L613.8 702.6 L615.1 705.1 L616.9 707.2 L619 709 L621.5 710.3 L624.1 711.1 L627 711.4 L659.1 711.4 L660.1 711.6 L661 712.1 L661.9 712.9 L663.5 714.6 L664.2 716 L664.4 716.8 L664.9 719.9 L665.1 720.7 L666.2 723.1 L667.7 725.6 L668.5 726.5 L670.3 728.1 L671.4 728.9 L673.6 730 L674.6 730.4 L676.4 730.9 L678.4 731 L679.6 730.9 L682.2 730.4 L683.4 730 L684.5 729.5 L686.4 728.2 L689.1 725.4 L690.3 723.6 L692.1 719.8 L693.1 717.4 L693.9 716.3 L695 715.2 L696.9 713.8 L699.1 712.5 L700.5 711.9 L704 710.6 L706.7 709.3 L713.4 705.3 L718.2 702.1 L718.2 658.9 L714.8 656.9 L711.3 655 L708.5 654 L700.4 651.6 L698 650.5 L696.2 649.1 L694 647 L691.9 643.6 L690.2 640.3 L689.1 638.9 L687.5 637.4 L686.7 636.8 L684.3 635.5 L681.2 634.3 L679.7 633.9 L678.4 633.7 L677.1 633.8 L675.6 634.1 L672.5 635.1 L670.4 636.1 L667.8 638.5 L665.9 639.9 L663.3 641.1 L662.2 641.3 L627 641.3 L624.1 641.6 L621.5 642.4 L619 643.7 L616.9 645.5 L615.1 647.6 L613.8 650.1 L613 652.7 L612.7 655.6Z" fill="none" stroke="#111" stroke-width="0.9"/>
<path d="M688.2 714.4 L687.9 716.8 L687 718.9 L685.5 720.8 L683.6 722.3 L681.5 723.2 L679.1 723.5 L676.7 723.2 L674.5 722.3 L672.7 720.8 L671.2 718.9 L670.3 716.8 L670 714.4 L670 650.9 L670.3 648.5 L671.2 646.4 L672.7 644.5 L674.5 643 L676.7 642.1 L679.1 641.8 L681.5 642.1 L683.6 643 L685.5 644.5 L687 646.4 L687.9 648.5 L688.2 650.9Z" fill="none" stroke="#111" stroke-width="1.6"/>
<path d="M683.5 716.1 L683.3 717.4 L682.8 718.6 L682.1 719.6 L681 720.3 L679.9 720.8 L678.6 721 L677.3 720.8 L676.1 720.3 L675.1 719.6 L674.4 718.6 L673.9 717.4 L673.7 716.1 L673.7 649.5 L673.9 648.2 L674.4 647 L675.1 646 L676.1 645.3 L677.3 644.8 L678.6 644.6 L679.9 644.8 L681 645.3 L682.1 646 L682.8 647 L683.3 648.2 L683.5 649.5Z" fill="none" stroke="#111" stroke-width="1.0"/>
<path d="M651.2 650.1 L620.9 650.1 L620.9 702.9 L651.2 702.9Z" fill="none" stroke="#111" stroke-width="1.5"/>
<path d="M649.6 651.7 L649.6 701.3 L622.5 701.3 L622.5 651.7Z" fill="none" stroke="#111" stroke-width="0.8"/>
<path d="M643.6 651 L643.6 702" fill="none" stroke="#111" stroke-width="0.9"/>
<path d="M663.3 639 L663.3 714" fill="none" stroke="#111" stroke-width="1.0"/>
<path d="M686.5 660 L686.5 664" fill="none" stroke="#444" stroke-width="1.6"/>
<path d="M686.5 667 L686.5 671" fill="none" stroke="#444" stroke-width="1.6"/>
<path d="M686.5 697 L686.5 701" fill="none" stroke="#444" stroke-width="1.6"/>
<path d="M686.5 704 L686.5 708" fill="none" stroke="#444" stroke-width="1.6"/>
<path d="M721 994.7 L716.2 997.5 L712.5 999.5 L709.4 1000.7 L702.1 1002.7 L700.4 1003.4 L698.8 1004.4 L696.7 1006.2" fill="none" stroke="#111" stroke-width="1.3"/>
<path d="M700.4 937 L705.1 938.8 L708.1 940.2 L714.9 944.3 L721 948.5" fill="none" stroke="#111" stroke-width="1.3"/>
<path d="M696.7 1006.2 L695.2 1008.3 L692.5 1013.2 L691.1 1015 L689.3 1016.7 L687 1018.3 L683.9 1019.8 L682.1 1020.4 L680.3 1020.9 L678.5 1021.1 L676.7 1021 L674.9 1020.7 L673.1 1020.1 L670 1018.9 L668.8 1018.2 L667.7 1017.3 L665.2 1015 L663.7 1014.2 L662.2 1013.5 L626.9 1013.5 L623.6 1013.2 L620.4 1012.2 L617.5 1010.6 L614.9 1008.5 L612.8 1005.9 L611.2 1003 L610.2 999.8 L609.9 996.5 L609.9 954 L609.9 954.8 L610.2 951.5 L611.2 948.3 L612.8 945.4 L614.9 942.8 L617.5 940.7 L620.4 939.1 L623.6 938.1 L626.9 937.8 L659.1 937.8 L660.5 936.5 L661.5 935.2 L661.7 934.4 L662.1 931.4 L662.5 930.3 L664.5 926.2 L665.4 924.8 L666.4 923.6 L668.7 921.6 L671.3 920 L673.7 918.9 L676 918.3 L678.5 918.2 L681.4 918.6 L684.4 919.4 L685.8 920 L687.1 920.8 L689.4 922.8 L691.3 924.9 L692.1 926 L694.3 930.3 L695.3 932.7 L696.1 934 L697.6 935.3 L700.4 937" fill="none" stroke="#111" stroke-width="2.7" stroke-linejoin="round"/>
<path d="M612.7 954.9 L612.7 996.4 L613 999.3 L613.8 1001.9 L615.1 1004.4 L616.9 1006.5 L619 1008.3 L621.5 1009.6 L624.1 1010.4 L627 1010.7 L662.2 1010.7 L663.3 1010.9 L665.9 1012.1 L667.8 1013.5 L670.4 1015.9 L672.5 1016.9 L675.6 1017.9 L677.1 1018.2 L678.4 1018.3 L679.7 1018.1 L681.2 1017.7 L684.3 1016.5 L686.7 1015.2 L687.5 1014.6 L689.1 1013.1 L690.2 1011.7 L691.9 1008.4 L694 1005 L696.2 1002.9 L698 1001.5 L700.4 1000.4 L708.5 998 L711.3 997 L714.8 995.1 L718.2 993.1 L718.2 949.9 L713.4 946.7 L706.7 942.7 L704 941.4 L700.5 940.1 L699.1 939.5 L696.9 938.2 L695 936.8 L693.9 935.7 L693.1 934.6 L692.1 932.2 L690.3 928.4 L689.1 926.6 L686.4 923.8 L684.5 922.5 L683.4 922 L682.2 921.6 L679.6 921.1 L678.4 921 L676.4 921.1 L674.6 921.6 L673.6 922 L671.4 923.1 L670.3 923.9 L668.5 925.5 L667.7 926.4 L666.2 928.9 L665.1 931.3 L664.9 932.1 L664.4 935.2 L664.2 936 L663.5 937.4 L661.9 939.1 L661 939.9 L660.1 940.4 L659.1 940.6 L627 940.6 L624.1 940.9 L621.5 941.7 L619 943 L616.9 944.8 L615.1 946.9 L613.8 949.4 L613 952Z" fill="none" stroke="#111" stroke-width="0.9"/>
<path d="M688.2 937.6 L687.9 935.2 L687 933.1 L685.5 931.2 L683.6 929.7 L681.5 928.8 L679.1 928.5 L676.7 928.8 L674.5 929.7 L672.7 931.2 L671.2 933.1 L670.3 935.2 L670 937.6 L670 1001.1 L670.3 1003.5 L671.2 1005.6 L672.7 1007.5 L674.5 1009 L676.7 1009.9 L679.1 1010.2 L681.5 1009.9 L683.6 1009 L685.5 1007.5 L687 1005.6 L687.9 1003.5 L688.2 1001.1Z" fill="none" stroke="#111" stroke-width="1.6"/>
<path d="M683.5 935.9 L683.3 934.6 L682.8 933.4 L682.1 932.4 L681 931.7 L679.9 931.2 L678.6 931 L677.3 931.2 L676.1 931.7 L675.1 932.4 L674.4 933.4 L673.9 934.6 L673.7 935.9 L673.7 1002.5 L673.9 1003.8 L674.4 1005 L675.1 1006 L676.1 1006.7 L677.3 1007.2 L678.6 1007.4 L679.9 1007.2 L681 1006.7 L682.1 1006 L682.8 1005 L683.3 1003.8 L683.5 1002.5Z" fill="none" stroke="#111" stroke-width="1.0"/>
<path d="M651.2 1001.9 L620.9 1001.9 L620.9 949.1 L651.2 949.1Z" fill="none" stroke="#111" stroke-width="1.5"/>
<path d="M649.6 1000.3 L649.6 950.7 L622.5 950.7 L622.5 1000.3Z" fill="none" stroke="#111" stroke-width="0.8"/>
<path d="M643.6 1001 L643.6 950" fill="none" stroke="#111" stroke-width="0.9"/>
<path d="M663.3 1013 L663.3 938" fill="none" stroke="#111" stroke-width="1.0"/>
<path d="M686.5 992 L686.5 988" fill="none" stroke="#444" stroke-width="1.6"/>
<path d="M686.5 985 L686.5 981" fill="none" stroke="#444" stroke-width="1.6"/>
<path d="M686.5 955 L686.5 951" fill="none" stroke="#444" stroke-width="1.6"/>
<path d="M686.5 948 L686.5 944" fill="none" stroke="#444" stroke-width="1.6"/>
<path d="M368.7 596 L363.2 595.5 L357.9 593.9 L353 591.2 L348.8 587.7 L345.3 583.5 L342.6 578.6 L341 573.3 L340.5 567.8 L341 562.3 L342.6 557 L345.3 552.1 L348.8 547.9 L353 544.4 L357.9 541.7 L363.2 540.1 L376.9 538.6 L385.2 537.8 L393.6 537.2 L402.2 536.8 L410.8 536.5 L419.6 536.5 L428.5 536.6 L437.5 536.9 L446.6 537.4 L455.8 538 L465.1 538.9 L480.2 540.5 L485.7 542.1 L490.7 544.8 L495 548.4 L498.6 552.7 L501.3 557.7 L502.9 563.2 L503.5 568.8 L502.9 574.4 L501.3 579.9 L498.6 584.9 L495 589.2 L490.7 592.8 L485.7 595.5 L480.2 597.1 L474.6 597.7 L465.1 596.3 L455.8 595.1 L446.6 594.1 L437.5 593.4 L428.5 592.9 L419.6 592.7 L410.8 592.6 L402.2 592.9 L393.6 593.3 L385.2 594 L376.9 594.9Z" fill="none" stroke="#111" stroke-width="1.9"/>
<path d="M368.9 550.9 L365.8 551.2 L362.7 552.1 L360 553.6 L357.5 555.6 L355.5 558.1 L354 560.8 L353.1 563.9 L352.8 567 L353.1 570.1 L354 573.2 L355.5 575.9 L357.5 578.4 L360 580.4 L362.7 581.9 L365.8 582.8 L368.9 583.1 L451.4 583.1 L452.5 584.8 L455.3 588.1 L458.6 590.9 L462.2 593.1 L466.2 594.8 L470.3 595.8 L474.6 596.1 L478.9 595.8 L483 594.8 L487 593.1 L490.6 590.9 L493.9 588.1 L496.7 584.8 L498.9 581.2 L500.6 577.2 L501.6 573.1 L501.9 568.8 L501.6 564.5 L500.6 560.4 L498.9 556.4 L496.7 552.8 L493.9 549.5 L490.6 546.7 L487 544.5 L483 542.8 L478.9 541.8 L474.6 541.5 L470.3 541.8 L466.2 542.8 L462.2 544.5 L458.6 546.7 L455.3 549.5 L454.1 550.9Z" fill="none" stroke="#111" stroke-width="1.5"/>
<path d="M353.2 570.6 L400.1 570.6 L400.1 582.6" fill="none" stroke="#111" stroke-width="1.2"/>
<path d="M434.9 582.6 L434.9 570.6 L501.8 570.6" fill="none" stroke="#111" stroke-width="1.2"/>
<path d="M468.1 1056 L473.6 1056.5 L478.9 1058.1 L483.8 1060.8 L488 1064.3 L491.5 1068.5 L494.2 1073.4 L495.8 1078.7 L496.3 1084.2 L495.8 1089.7 L494.2 1095 L491.5 1099.9 L488 1104.1 L483.8 1107.6 L478.9 1110.3 L473.6 1111.9 L459.9 1113.4 L451.6 1114.2 L443.2 1114.8 L434.6 1115.2 L426 1115.5 L417.2 1115.5 L408.3 1115.4 L399.3 1115.1 L390.2 1114.6 L381 1114 L371.7 1113.1 L356.6 1111.5 L351.1 1109.9 L346.1 1107.2 L341.8 1103.6 L338.2 1099.3 L335.5 1094.3 L333.9 1088.8 L333.3 1083.2 L333.9 1077.6 L335.5 1072.1 L338.2 1067.1 L341.8 1062.8 L346.1 1059.2 L351.1 1056.5 L356.6 1054.9 L362.2 1054.3 L371.7 1055.7 L381 1056.9 L390.2 1057.9 L399.3 1058.6 L408.3 1059.1 L417.2 1059.3 L426 1059.4 L434.6 1059.1 L443.2 1058.7 L451.6 1058 L459.9 1057.1Z" fill="none" stroke="#111" stroke-width="1.9"/>
<path d="M467.9 1101.1 L471 1100.8 L474.1 1099.9 L476.8 1098.4 L479.3 1096.4 L481.3 1093.9 L482.8 1091.2 L483.7 1088.1 L484 1085 L483.7 1081.9 L482.8 1078.8 L481.3 1076.1 L479.3 1073.6 L476.8 1071.6 L474.1 1070.1 L471 1069.2 L467.9 1068.9 L385.4 1068.9 L384.3 1067.2 L381.5 1063.9 L378.2 1061.1 L374.6 1058.9 L370.6 1057.2 L366.5 1056.2 L362.2 1055.9 L357.9 1056.2 L353.8 1057.2 L349.8 1058.9 L346.2 1061.1 L342.9 1063.9 L340.1 1067.2 L337.9 1070.8 L336.2 1074.8 L335.2 1078.9 L334.9 1083.2 L335.2 1087.5 L336.2 1091.6 L337.9 1095.6 L340.1 1099.2 L342.9 1102.5 L346.2 1105.3 L349.8 1107.5 L353.8 1109.2 L357.9 1110.2 L362.2 1110.5 L366.5 1110.2 L370.6 1109.2 L374.6 1107.5 L378.2 1105.3 L381.5 1102.5 L382.7 1101.1Z" fill="none" stroke="#111" stroke-width="1.5"/>
<path d="M128.5 769.9 L129 764.2 L130.5 758.8 L132.9 753.6 L136.1 748.9 L140.1 744.9 L144.8 741.7 L150 739.3 L155.4 737.8 L161.1 737.3 L166.8 737.8 L172.2 739.3 L177.4 741.7 L182.1 744.9 L186.1 748.9 L189.3 753.6 L191.7 758.8 L193.2 764.2 L193.7 769.9 L192.6 778.5 L191.7 787.1 L191 795.8 L190.4 804.4 L190.1 813 L189.9 821.6 L190 830.3 L190.2 838.9 L190.6 847.5 L191.2 856.1 L192 864.8 L193 873.4 L192.5 879.1 L191 884.5 L188.6 889.7 L185.4 894.4 L181.4 898.4 L176.7 901.6 L171.5 904 L166.1 905.5 L160.4 906 L154.7 905.5 L149.3 904 L144.1 901.6 L139.4 898.4 L135.4 894.4 L132.2 889.7 L129.8 884.5 L128.3 879.1 L127.8 873.4 L126.8 864.8 L126.1 856.1 L125.5 847.5 L125.1 838.9 L124.9 830.3 L124.8 821.6 L125 813 L125.3 804.4 L125.8 795.8 L126.5 787.1 L127.4 778.5Z" fill="none" stroke="#111" stroke-width="1.6"/>
<path d="M130.8 770.2 L129.7 778.8 L128.8 787.4 L128.1 795.9 L127.6 804.5 L127.3 813.1 L127.1 821.7 L127.2 830.2 L127.4 838.8 L127.8 847.4 L128.4 856 L130.6 878.7 L131.9 883.8 L134.2 888.5 L137.2 892.9 L140.9 896.6 L145.3 899.6 L150 901.9 L155.1 903.2 L160.4 903.7 L165.7 903.2 L170.8 901.9 L175.5 899.6 L179.9 896.6 L183.6 892.9 L186.6 888.5 L188.9 883.8 L190.2 878.7 L190.7 873.4 L189.7 865 L188.9 856.4 L188.3 847.7 L187.9 839 L187.7 830.3 L187.6 821.6 L187.8 813 L188.1 804.3 L188.7 795.6 L189.4 787 L190.3 778.3 L191.4 769.9 L190.9 764.6 L189.6 759.5 L187.3 754.8 L184.3 750.4 L180.6 746.7 L176.2 743.7 L171.5 741.4 L166.4 740.1 L161.1 739.6 L155.8 740.1 L150.7 741.4 L146 743.7 L141.6 746.7 L137.9 750.4 L134.9 754.8 L132.6 759.5 L131.3 764.6Z" fill="none" stroke="#111" stroke-width="0.9"/>
<path d="M186.8 763.9 L185.8 759.9 L184.2 756.1 L182.1 752.5 L179.4 749.4 L176.3 746.7 L172.7 744.6 L168.9 743 L164.9 742 L160.8 741.7 L156.7 742 L152.7 743 L148.9 744.6 L145.3 746.7 L142.2 749.4 L139.5 752.5 L137.4 756.1 L135.8 759.9 L134.8 763.9 L134.5 768 L134.8 772.1 L135.8 776.1 L137.4 779.9 L139.5 783.5 L142.5 786.9 L144.3 875.2 L144.7 878.4 L145.7 881.4 L147.2 884.1 L149.2 886.5 L151.7 888.5 L154.5 889.9 L157.6 890.8 L160.7 891 L163.9 890.6 L166.9 889.6 L169.6 888.1 L172 886.1 L174 883.6 L175.4 880.8 L176.3 877.7 L176.5 874.6 L174.8 790.2 L176.3 789.3 L179.4 786.6 L182.1 783.5 L184.2 779.9 L185.8 776.1 L186.8 772.1 L187.1 768Z" fill="none" stroke="#111" stroke-width="1.3"/>
<path d="M708.3 882.1 L707.8 887.8 L706.3 893.2 L703.9 898.4 L700.7 903.1 L696.7 907.1 L692 910.3 L686.8 912.7 L681.4 914.2 L675.7 914.7 L670 914.2 L664.6 912.7 L659.4 910.3 L654.7 907.1 L650.7 903.1 L647.5 898.4 L645.1 893.2 L643.6 887.8 L643.1 882.1 L644.2 873.5 L645.1 864.9 L645.8 856.2 L646.4 847.6 L646.7 839 L646.9 830.4 L646.8 821.7 L646.6 813.1 L646.2 804.5 L645.6 795.9 L644.8 787.2 L643.8 778.6 L644.3 772.9 L645.8 767.5 L648.2 762.3 L651.4 757.6 L655.4 753.6 L660.1 750.4 L665.3 748 L670.7 746.5 L676.4 746 L682.1 746.5 L687.5 748 L692.7 750.4 L697.4 753.6 L701.4 757.6 L704.6 762.3 L707 767.5 L708.5 772.9 L709 778.6 L710 787.2 L710.7 795.9 L711.3 804.5 L711.7 813.1 L711.9 821.7 L712 830.4 L711.8 839 L711.5 847.6 L711 856.2 L710.3 864.9 L709.4 873.5Z" fill="none" stroke="#111" stroke-width="1.6"/>
<path d="M706 881.8 L707.1 873.2 L708 864.6 L708.7 856.1 L709.2 847.5 L709.5 838.9 L709.7 830.3 L709.6 821.8 L709.4 813.2 L709 804.6 L708.4 796 L706.2 773.3 L704.9 768.2 L702.6 763.5 L699.6 759.1 L695.9 755.4 L691.5 752.4 L686.8 750.1 L681.7 748.8 L676.4 748.3 L671.1 748.8 L666 750.1 L661.3 752.4 L656.9 755.4 L653.2 759.1 L650.2 763.5 L647.9 768.2 L646.6 773.3 L646.1 778.6 L647.1 787 L647.9 795.6 L648.5 804.3 L648.9 813 L649.1 821.7 L649.2 830.4 L649 839 L648.7 847.7 L648.1 856.4 L647.4 865 L646.5 873.7 L645.4 882.1 L645.9 887.4 L647.2 892.5 L649.5 897.2 L652.5 901.6 L656.2 905.3 L660.6 908.3 L665.3 910.6 L670.4 911.9 L675.7 912.4 L681 911.9 L686.1 910.6 L690.8 908.3 L695.2 905.3 L698.9 901.6 L701.9 897.2 L704.2 892.5 L705.5 887.4Z" fill="none" stroke="#111" stroke-width="0.9"/>
<path d="M650 888.1 L651 892.1 L652.6 895.9 L654.7 899.5 L657.4 902.6 L660.5 905.3 L664.1 907.4 L667.9 909 L671.9 910 L676 910.3 L680.1 910 L684.1 909 L687.9 907.4 L691.5 905.3 L694.6 902.6 L697.3 899.5 L699.4 895.9 L701 892.1 L702 888.1 L702.3 884 L702 879.9 L701 875.9 L699.4 872.1 L697.3 868.5 L694.3 865.1 L692.5 776.8 L692.1 773.6 L691.1 770.6 L689.6 767.9 L687.6 765.5 L685.1 763.5 L682.3 762.1 L679.2 761.2 L676.1 761 L672.9 761.4 L669.9 762.4 L667.2 763.9 L664.8 765.9 L662.8 768.4 L661.4 771.2 L660.5 774.3 L660.3 777.4 L662 861.8 L660.5 862.7 L657.4 865.4 L654.7 868.5 L652.6 872.1 L651 875.9 L650 879.9 L649.7 884Z" fill="none" stroke="#111" stroke-width="1.3"/>
<path d="M274.8 624.4 L273.8 624.8 L238.7 655.5 L238.4 656 L238.3 656.5 L238.3 995.5 L238.4 996 L238.7 996.5 L273.8 1027.2 L274.8 1027.6 L562 1027.6 L563 1027.2 L598.1 996.5 L598.4 996 L598.5 995.5 L598.5 656.5 L598.4 656 L598.1 655.5 L563 624.8 L562 624.4Z" fill="none" stroke="#111" stroke-width="3.3" stroke-linejoin="round"/>
<path d="M241 657.1 L241 994.9 L275.3 1024.9 L561.5 1024.9 L595.8 994.9 L595.8 657.1 L561.5 627.1 L275.3 627.1Z" fill="none" stroke="#111" stroke-width="1.0"/>
<path d="M243.7 658.4 L243.7 993.6 L276.3 1022.2 L560.5 1022.2 L593.1 993.6 L593.1 658.4 L560.5 629.8 L276.3 629.8Z" fill="none" stroke="#111" stroke-width="1.4"/>
<path d="M241.0 745 V912" fill="none" stroke="#111" stroke-width="5.8" stroke-linecap="butt"/>
<path d="M240.3 910 V994" fill="none" stroke="#111" stroke-width="4.4" stroke-linecap="butt"/>
<path d="M595.8 745 V806 M595.8 846 V912" fill="none" stroke="#111" stroke-width="5.8" stroke-linecap="butt"/>
<path d="M596.5 910 V994" fill="none" stroke="#111" stroke-width="4.4" stroke-linecap="butt"/>
<path d="M244.3 724.4 H592.5" fill="none" stroke="#111" stroke-width="1.3"/>
<path d="M244.3 823.3 H592.5" fill="none" stroke="#111" stroke-width="1.3"/>
<path d="M244.3 884.2 H592.5" fill="none" stroke="#111" stroke-width="1.3"/>
<path d="M278.9 724.4 V821.7 H387.8 V724.4" fill="none" stroke="#111" stroke-width="1.4"/>
<path d="M278.9 817.8 H387.8" fill="none" stroke="#111" stroke-width="1.3"/>
<path d="M281.8 724.4 V737 Q281.8 740.4 285.2 740.4 H381.5 Q384.9 740.4 384.9 737 V724.4" fill="none" stroke="#111" stroke-width="1.4"/>
<path d="M283.9 730.4 H382.8" fill="none" stroke="#111" stroke-width="4.6" stroke-linecap="butt"/>
<path d="M285.4 727 V736.5 M381.3 727 V736.5" fill="none" stroke="#111" stroke-width="1.0"/>
<path d="M448.99999999999994 724.4 V821.7 H557.9 V724.4" fill="none" stroke="#111" stroke-width="1.4"/>
<path d="M448.99999999999994 817.8 H557.9" fill="none" stroke="#111" stroke-width="1.3"/>
<path d="M451.9 724.4 V737 Q451.9 740.4 455.3 740.4 H551.6 Q555.0 740.4 555.0 737 V724.4" fill="none" stroke="#111" stroke-width="1.4"/>
<path d="M454.0 730.4 H552.9" fill="none" stroke="#111" stroke-width="4.6" stroke-linecap="butt"/>
<path d="M455.5 727 V736.5 M551.4 727 V736.5" fill="none" stroke="#111" stroke-width="1.0"/>
<path d="M254.4 724.4 L254.4 711.7 L262.8 711.7 L262.8 818 L254.4 818 L254.4 724.4" fill="none" stroke="#222" stroke-width="1.6"/>
<path d="M257.2 714.5 L257.2 816" fill="none" stroke="#222" stroke-width="0.9"/>
<path d="M260.3 714.5 L260.3 780" fill="none" stroke="#222" stroke-width="0.9"/>
<path d="M254.4 728 L262.8 728" fill="none" stroke="#222" stroke-width="1.0"/>
<path d="M254.4 742 L262.8 742" fill="none" stroke="#222" stroke-width="1.0"/>
<path d="M254.4 776 L262.8 776" fill="none" stroke="#222" stroke-width="1.0"/>
<path d="M254.4 803 L262.8 803" fill="none" stroke="#222" stroke-width="1.0"/>
<path d="M262.5 762 L256.5 790" fill="none" stroke="#222" stroke-width="1.3"/>
<path d="M262.5 770 L258.8 790" fill="none" stroke="#222" stroke-width="1.0"/>
<path d="M582.4 724.4 L582.4 711.7 L574 711.7 L574 818 L582.4 818 L582.4 724.4" fill="none" stroke="#222" stroke-width="1.6"/>
<path d="M579.6 714.5 L579.6 816" fill="none" stroke="#222" stroke-width="0.9"/>
<path d="M576.5 714.5 L576.5 780" fill="none" stroke="#222" stroke-width="0.9"/>
<path d="M582.4 728 L574 728" fill="none" stroke="#222" stroke-width="1.0"/>
<path d="M582.4 742 L574 742" fill="none" stroke="#222" stroke-width="1.0"/>
<path d="M582.4 776 L574 776" fill="none" stroke="#222" stroke-width="1.0"/>
<path d="M582.4 803 L574 803" fill="none" stroke="#222" stroke-width="1.0"/>
<path d="M574.3 762 L580.3 790" fill="none" stroke="#222" stroke-width="1.3"/>
<path d="M574.3 770 L578 790" fill="none" stroke="#222" stroke-width="1.0"/>
<path d="M255 885 V990 L280.6 1011.6 H556.2 L581.8 990 V885" fill="none" stroke="#111" stroke-width="1.2"/>
<path d="M244.3 912.2 L253.3 912.2 L253.3 885" fill="none" stroke="#222" stroke-width="1.1"/>
<path d="M252.8 890.6 L263.3 890.6 L263.3 930 L252.8 930Z" fill="none" stroke="#222" stroke-width="1.2"/>
<path d="M253.5 893.5 L262.8 893.5" fill="none" stroke="#222" stroke-width="1.0"/>
<path d="M253.5 897.5 L262.8 897.5" fill="none" stroke="#222" stroke-width="1.0"/>
<path d="M253.5 918 L262.8 918" fill="none" stroke="#222" stroke-width="1.0"/>
<path d="M253.5 925 L262.8 925" fill="none" stroke="#222" stroke-width="1.0"/>
<path d="M258 898 L258 925" fill="none" stroke="#222" stroke-width="1.0"/>
<path d="M255.2 905 L257 905 L257 918" fill="none" stroke="#222" stroke-width="1.2"/>
<path d="M255 945.6 L262.8 945.6 L262.8 996" fill="none" stroke="#222" stroke-width="1.2"/>
<path d="M592.5 912.2 L583.5 912.2 L583.5 885" fill="none" stroke="#222" stroke-width="1.1"/>
<path d="M584 890.6 L573.5 890.6 L573.5 930 L584 930Z" fill="none" stroke="#222" stroke-width="1.2"/>
<path d="M583.3 893.5 L574 893.5" fill="none" stroke="#222" stroke-width="1.0"/>
<path d="M583.3 897.5 L574 897.5" fill="none" stroke="#222" stroke-width="1.0"/>
<path d="M583.3 918 L574 918" fill="none" stroke="#222" stroke-width="1.0"/>
<path d="M583.3 925 L574 925" fill="none" stroke="#222" stroke-width="1.0"/>
<path d="M578.8 898 L578.8 925" fill="none" stroke="#222" stroke-width="1.0"/>
<path d="M581.6 905 L579.8 905 L579.8 918" fill="none" stroke="#222" stroke-width="1.2"/>
<path d="M581.8 945.6 L574 945.6 L574 996" fill="none" stroke="#222" stroke-width="1.2"/>
<rect x="311.1" y="926.6" width="44.6" height="24.1" fill="none" stroke="#111" stroke-width="1.5"/>
<path d="M315.9 950 V935.5 Q315.9 931.3 320.1 931.3 H346.7 Q350.9 931.3 350.9 935.5 V950" fill="none" stroke="#111" stroke-width="2.2"/>
<path d="M311.1 949.4 H355.7" fill="none" stroke="#111" stroke-width="2.2"/>
<rect x="306.9" y="957.8" width="53" height="21.2" fill="none" stroke="#111" stroke-width="1.6"/>
<path d="M306.9 962.2 H359.9" fill="none" stroke="#111" stroke-width="1.3"/>
<rect x="481.1" y="926.6" width="44.6" height="24.1" fill="none" stroke="#111" stroke-width="1.5"/>
<path d="M485.9 950 V935.5 Q485.9 931.3 490.1 931.3 H516.7 Q520.9 931.3 520.9 935.5 V950" fill="none" stroke="#111" stroke-width="2.2"/>
<path d="M481.1 949.4 H525.7" fill="none" stroke="#111" stroke-width="2.2"/>
<rect x="476.9" y="957.8" width="53" height="21.2" fill="none" stroke="#111" stroke-width="1.6"/>
<path d="M476.9 962.2 H529.9" fill="none" stroke="#111" stroke-width="1.3"/>
<rect x="401.5" y="894.9" width="33.3" height="39.5" fill="none" stroke="#111" stroke-width="1.4"/>
<path d="M401.5 926 H434.8" fill="none" stroke="#111" stroke-width="1.2"/>
<path d="M405.3 926 V907.5 L414.6 899.8 H417.3 V913.5 L405.3 920.5" fill="none" stroke="#111" stroke-width="1.3" stroke-linejoin="round"/>
<path d="M430.6 926 V906.2 L420 899.8 V913.6 L430.6 920" fill="none" stroke="#111" stroke-width="1.3" stroke-linejoin="round"/>
<path d="M401.5 918.5 H405.3 M430.6 918.5 H434.8" fill="none" stroke="#111" stroke-width="1.1"/>
<path d="M418.6 899.8 V913.6" fill="none" stroke="#111" stroke-width="1.0"/>
<text x="366" y="853.6" font-size="31" textLength="100" lengthAdjust="spacingAndGlyphs" stroke="#111" stroke-width="1.8" fill="#d9deec">internet</text>
<text x="387.8" y="876.6" font-size="26.4" textLength="60.4" lengthAdjust="spacingAndGlyphs" stroke="#111" stroke-width="1.0" fill="#d9deec">CAT6</text>
<path d="M465.1 682.6 V658.6 H460.9 L468.7 646.6 L476.5 658.6 H472.3 V682.6 Z" fill="none" stroke="#111" stroke-width="1.6" stroke-linejoin="miter"/>
<path d="M488.0 682.6 V658.6 H483.8 L491.6 646.6 L499.4 658.6 H495.2 V682.6 Z" fill="none" stroke="#111" stroke-width="1.6" stroke-linejoin="miter"/>
<rect x="461.6" y="684.6" width="37.6" height="6.8" fill="none" stroke="#111" stroke-width="1.7"/>
<text x="461.6" y="708.9" font-size="20" textLength="37.8" lengthAdjust="spacingAndGlyphs" stroke="#111" stroke-width="1.6" fill="#d9deec">TOP</text>
<rect x="342.7" y="642.2" width="35.7" height="70.6" rx="5.5" fill="none" stroke="#111" stroke-width="3.3"/>
<rect x="287" y="652.5" width="69.5" height="58" rx="9" fill="#d9deec" stroke="none"/>
<path d="M343.5 654.2 Q357 654.6 357 665 V698 Q357 708.8 345.5 709.6" fill="none" stroke="#111" stroke-width="2.6"/>
<path d="M358 659.7 H372.6" fill="none" stroke="#111" stroke-width="6.2"/>
<path d="M358.5 659.7 H372.4" fill="none" stroke="#8a8f9c" stroke-width="1.0"/>
<path d="M358 669.2 H372.6" fill="none" stroke="#111" stroke-width="6.2"/>
<path d="M358.5 669.2 H372.4" fill="none" stroke="#8a8f9c" stroke-width="1.0"/>
<path d="M358 678.6 H372.6" fill="none" stroke="#111" stroke-width="6.2"/>
<path d="M358.5 678.6 H372.4" fill="none" stroke="#8a8f9c" stroke-width="1.0"/>
<circle cx="364.4" cy="697" r="4.6" fill="none" stroke="#111" stroke-width="2.6"/>
<rect x="293.8" y="659.4" width="57.4" height="44" rx="6" fill="none" stroke="#111" stroke-width="3.3"/>
<rect x="299.3" y="664.8" width="47" height="28.2" fill="none" stroke="#111" stroke-width="3"/>
<rect x="317.6" y="695" width="10.6" height="5.8" rx="2.6" fill="none" stroke="#111" stroke-width="2.2"/>
<path d="M311 705.5 L312.5 712 H333.5 L335 705.5" fill="none" stroke="#111" stroke-width="2.6" stroke-linejoin="round"/>
<rect x="305.8" y="712.4" width="34.6" height="5.4" rx="2.6" fill="none" stroke="#111" stroke-width="2.6"/>
<ellipse cx="212.6" cy="825.7" rx="20.6" ry="25.6" fill="none" stroke="#111" stroke-width="3.2"/>
<ellipse cx="212.6" cy="825.7" rx="18.6" ry="23" fill="none" stroke="#d9deec" stroke-width="0.7" stroke-dasharray="3 2"/>
<circle cx="213.4" cy="825.7" r="18.2" fill="none" stroke="#111" stroke-width="2.1"/>
<path d="M217.6 810 L207.6 810 L207.6 821 L206.8 821.9 L196.3 821.9 L196.3 829.5 L206.8 829.5 L207.6 830.4 L207.6 841.4 L217.6 841.4 L217.6 830.4 L218.4 829.5 L230.1 829.5 L230.1 821.9 L218.4 821.9 L217.6 821Z" fill="#d9deec" stroke="#111" stroke-width="2.0"/>
<path d="M201.1 822.7 V828.7 M204.1 822.7 V828.7 M224.1 822.7 V828.7 M221.1 822.7 V828.7" fill="none" stroke="#111" stroke-width="1.1"/>
<path d="M229.6 806.2 Q233.6 804.7 238.4 801.2 M229.6 845.2 Q233.6 846.7 238.4 850.2" fill="none" stroke="#111" stroke-width="2.0"/>
<path d="M236.9 803.7 V847.7" fill="none" stroke="#111" stroke-width="1.2"/>
<ellipse cx="624.1999999999999" cy="826.3" rx="20.6" ry="25.6" fill="none" stroke="#111" stroke-width="3.2"/>
<ellipse cx="624.1999999999999" cy="826.3" rx="18.6" ry="23" fill="none" stroke="#d9deec" stroke-width="0.7" stroke-dasharray="3 2"/>
<circle cx="623.4" cy="826.3" r="18.2" fill="none" stroke="#111" stroke-width="2.1"/>
<path d="M629.2 810.6 L619.2 810.6 L619.2 821.6 L618.4 822.5 L607.9 822.5 L607.9 830.1 L618.4 830.1 L619.2 831 L619.2 842 L629.2 842 L629.2 831 L630 830.1 L641.7 830.1 L641.7 822.5 L630 822.5 L629.2 821.6Z" fill="#d9deec" stroke="#111" stroke-width="2.0"/>
<path d="M612.6999999999999 823.3 V829.3 M615.6999999999999 823.3 V829.3 M635.6999999999999 823.3 V829.3 M632.6999999999999 823.3 V829.3" fill="none" stroke="#111" stroke-width="1.1"/>
<path d="M607.2 806.8 Q603.2 805.3 598.4 801.8 M607.2 845.8 Q603.2 847.3 598.4 850.8" fill="none" stroke="#111" stroke-width="2.0"/>
<path d="M599.9 804.3 V848.3" fill="none" stroke="#111" stroke-width="1.2"/>
<path d="M202.1 568.8 L199.4 567.8 L196.7 567.2 L193.8 566.7 L191 566.6 L188.2 566.7 L185.3 567.2 L182.6 567.8 L179.9 568.8 L177.3 570 L174.9 571.5 L172.6 573.2 L170.5 575.1 L168.6 577.2 L166.9 579.5 L165.4 581.9 L164.2 584.5 L163.2 587.2 L162.6 589.9 L162.1 592.8 L162 595.6 L162.1 598.4 L162.6 601.3 L163.2 604 L164.2 606.7 L165.4 609.3 L166.9 611.7 L168.6 614 L170.5 616.1 L172.6 618 L174.9 619.7 L177.3 621.2 L179.9 622.4 L182.6 623.4 L185.3 624 L188.2 624.5 L191 624.6 L193.8 624.5 L196.7 624 L199.4 623.4 L202.1 622.4 L204.2 621.4 L204.2 569.8Z" fill="none" stroke="#111" stroke-width="1.3"/>
<path d="M195.8 575.3 L193.3 574.1 L191.5 573.4 L189.5 572.9 L187.5 572.6 L185.5 572.5 L183.5 572.6 L181.5 572.9 L179.5 573.4 L177.7 574.1 L175.8 574.9 L174.1 576 L172.5 577.2 L171 578.5 L169.7 580 L168.5 581.6 L167.4 583.3 L166.6 585.2 L165.9 587 L165.4 589 L165.1 591 L165 593 L165.1 595 L165.4 597 L165.9 599 L166.6 600.8 L167.4 602.7 L168.5 604.4 L169.7 606 L171 607.5 L172.5 608.8 L174.1 610 L175.8 611.1 L177.7 611.9 L179.5 612.6 L181.5 613.1 L183.5 613.4 L185.5 613.5 L187.5 613.4 L189.5 613.1 L191.5 612.6 L193.3 611.9 L195.2 611.1 L196.9 610 L198.5 608.8 L200 607.5 L201.3 606 L202.5 604.4 L203.6 602.7 L203.9 601.9 L197.5 601.9 L196.1 603.6 L195 604.5 L193.9 605.4 L191.4 606.7 L190.1 607.2 L187.3 607.7 L184.5 607.7 L183.1 607.5 L180.4 606.7 L179.1 606.1 L177.9 605.4 L175.7 603.6 L173.9 601.4 L173.2 600.2 L172.1 597.6 L171.6 594.8 L171.5 593.4 L171.8 590.6 L172.6 587.9 L173.2 586.6 L173.9 585.4 L175.7 583.2 L177.9 581.4 L180.4 580.1 L183.1 579.3 L185.9 579 L188.7 579.3 L191.4 580.1 L193.9 581.4 L195.8 583Z" fill="none" stroke="#111" stroke-width="1.3"/>
<path d="M208.7 574.4 A26.8 26.8 0 0 1 208.7 618.3 Z" fill="none" stroke="#111" stroke-width="1.3"/>
<rect x="618.2" y="545.3" width="44.2" height="44.2" fill="none" stroke="#111" stroke-width="1.3"/>
<rect x="620.4" y="547.5" width="39.8" height="39.8" fill="none" stroke="#111" stroke-width="1.0"/>
<filter id="ol" x="-10%" y="-10%" width="120%" height="120%"><feMorphology in="SourceAlpha" operator="dilate" radius="0.5" result="d"/><feMorphology in="SourceAlpha" operator="erode" radius="0.45" result="e"/><feComposite in="d" in2="e" operator="out"/></filter>
<g filter="url(#ol)"><g transform="translate(622.4,584.8) scale(0.365,1)"><text x="0" y="0" font-size="48.6" font-weight="bold">EAC</text></g></g>
<g filter="url(#ol)"><g transform="translate(618.6,635) scale(0.43,1)"><text x="0" y="0" font-size="54.5" letter-spacing="17">CE</text></g></g>
<text x="570.2" y="1047.8" font-size="24.6" textLength="128.6" lengthAdjust="spacingAndGlyphs" stroke="#111" stroke-width="1.5" fill="#d9deec">AMBRELLA</text>
<text x="632.2" y="1070.6" font-size="24.6" textLength="66.6" lengthAdjust="spacingAndGlyphs" stroke="#111" stroke-width="1.5" fill="#d9deec">VOLT</text>
<path d="M151.6 1051.2 L168.6 1037.2" fill="none" stroke="#111" stroke-width="6.6"/>
<path d="M152.2 1050.7 L168 1037.7" fill="none" stroke="#d9deec" stroke-width="2.6"/>
<path d="M150.5 1052.5 L141.5 1063.2" fill="none" stroke="#111" stroke-width="2.6"/>
<path d="M142.2 1062.2 L139.2 1066.3" fill="none" stroke="#111" stroke-width="4.0" stroke-linecap="butt"/>
<path d="M152.6 1047.2 L156 1052.2" fill="none" stroke="#111" stroke-width="2.2"/>
<path d="M176.6 1053.4 L220.2 1096.4 M220.2 1053.4 L176.6 1096.4" fill="none" stroke="#111" stroke-width="2.3"/>
<path d="M189 1061.5 L191.5 1090.5 H205.5 L208.4 1061.5" fill="none" stroke="#111" stroke-width="2.0" stroke-linejoin="round"/>
<path d="M187.6 1059.6 H209.8" fill="none" stroke="#111" stroke-width="3.4" stroke-linecap="butt"/>
<path d="M191.5 1057.3 Q198.7 1054.8 206 1057.3" fill="none" stroke="#111" stroke-width="2.2"/>
<rect x="194.3" y="1068.5" width="8.5" height="6.5" fill="none" stroke="#111" stroke-width="1.6"/>
<circle cx="204.2" cy="1089.6" r="2.2" fill="#111" stroke="none"/>
<path d="M192 1091.8 H203" fill="none" stroke="#111" stroke-width="2.4" stroke-linecap="butt"/>
<rect x="188.6" y="1094.6" width="19.6" height="2.8" fill="none" stroke="#111" stroke-width="1.3"/>
</g>
<g id="right">
<g>
<rect x="1023.6" y="452.9" width="263.9" height="278.6" fill="none" stroke="#3c3c44" stroke-width="1.3"/>
<rect x="1066.0" y="474.9" width="95.7" height="15.4" fill="#e2e5ef"/>
<rect x="1066.0" y="482.3" width="95.7" height="8.0" fill="#0c7d3d"/>
<rect x="1066.0" y="474.9" width="95.7" height="15.4" fill="none" stroke="#7d8394" stroke-opacity="0.55" stroke-width="0.8"/>
<text x="1047.6" y="490.1" font-size="21.6" text-anchor="middle" stroke="#000" stroke-width="0.45">1</text>
<text x="1170.6" y="484.9" font-size="13.5" textLength="87" lengthAdjust="spacingAndGlyphs" font-weight="bold">белый/зеленый</text>
<rect x="1066.0" y="506.4" width="95.7" height="15.4" fill="#0c7d3d"/>
<rect x="1066.0" y="506.4" width="95.7" height="15.4" fill="none" stroke="#7d8394" stroke-opacity="0.55" stroke-width="0.8"/>
<text x="1047.6" y="521.6" font-size="21.6" text-anchor="middle" stroke="#000" stroke-width="0.45">2</text>
<text x="1170.6" y="516.6" font-size="13.5" textLength="46.4" lengthAdjust="spacingAndGlyphs" font-weight="bold">зеленый</text>
<rect x="1066.0" y="538.3" width="95.7" height="15.4" fill="#e2e5ef"/>
<rect x="1066.0" y="545.7" width="95.7" height="8.0" fill="#df7b04"/>
<rect x="1066.0" y="538.3" width="95.7" height="15.4" fill="none" stroke="#7d8394" stroke-opacity="0.55" stroke-width="0.8"/>
<text x="1047.6" y="553.5" font-size="21.6" text-anchor="middle" stroke="#000" stroke-width="0.45">3</text>
<text x="1170.6" y="549.7" font-size="13.5" textLength="104.5" lengthAdjust="spacingAndGlyphs" font-weight="bold">белый/оранжевый</text>
<rect x="1066.0" y="570.2" width="95.7" height="15.4" fill="#008fce"/>
<rect x="1066.0" y="570.2" width="95.7" height="15.4" fill="none" stroke="#7d8394" stroke-opacity="0.55" stroke-width="0.8"/>
<text x="1047.6" y="585.4" font-size="21.6" text-anchor="middle" stroke="#000" stroke-width="0.45">4</text>
<text x="1170.6" y="580.4" font-size="13.5" textLength="45.4" lengthAdjust="spacingAndGlyphs" font-weight="bold">голубой</text>
<rect x="1066.0" y="602.5" width="95.7" height="15.4" fill="#e2e5ef"/>
<rect x="1066.0" y="609.9" width="95.7" height="8.0" fill="#008fce"/>
<rect x="1066.0" y="602.5" width="95.7" height="15.4" fill="none" stroke="#7d8394" stroke-opacity="0.55" stroke-width="0.8"/>
<text x="1047.6" y="617.7" font-size="21.6" text-anchor="middle" stroke="#000" stroke-width="0.45">5</text>
<text x="1170.6" y="612.9" font-size="13.5" textLength="86.3" lengthAdjust="spacingAndGlyphs" font-weight="bold">белый/голубой</text>
<rect x="1066.0" y="633.9" width="95.7" height="15.4" fill="#df7b04"/>
<rect x="1066.0" y="633.9" width="95.7" height="15.4" fill="none" stroke="#7d8394" stroke-opacity="0.55" stroke-width="0.8"/>
<text x="1047.6" y="649.1" font-size="21.6" text-anchor="middle" stroke="#000" stroke-width="0.45">6</text>
<text x="1170.6" y="643.2" font-size="13.5" textLength="63.5" lengthAdjust="spacingAndGlyphs" font-weight="bold">оранжевый</text>
<rect x="1066.0" y="665.8" width="95.7" height="15.4" fill="#e2e5ef"/>
<rect x="1066.0" y="673.2" width="95.7" height="8.0" fill="#9b6a40"/>
<rect x="1066.0" y="665.8" width="95.7" height="15.4" fill="none" stroke="#7d8394" stroke-opacity="0.55" stroke-width="0.8"/>
<text x="1047.6" y="681.0" font-size="21.6" text-anchor="middle" stroke="#000" stroke-width="0.45">7</text>
<text x="1170.6" y="677.1" font-size="13.5" textLength="108.4" lengthAdjust="spacingAndGlyphs" font-weight="bold">белый/коричневый</text>
<rect x="1066.0" y="697.4" width="95.7" height="15.4" fill="#9b6a40"/>
<rect x="1066.0" y="697.4" width="95.7" height="15.4" fill="none" stroke="#7d8394" stroke-opacity="0.55" stroke-width="0.8"/>
<text x="1047.6" y="712.6" font-size="21.6" text-anchor="middle" stroke="#000" stroke-width="0.45">8</text>
<text x="1171.1" y="706.7" font-size="13.5" textLength="67.2" lengthAdjust="spacingAndGlyphs" font-weight="bold">коричневый</text>
<text x="1127.3" y="756.8" font-size="17" textLength="53.8" lengthAdjust="spacingAndGlyphs" stroke="#000" stroke-width="0.35">T568A</text>
</g>
<g>
<rect x="1419.6" y="452.9" width="263.9" height="278.6" fill="none" stroke="#3c3c44" stroke-width="1.3"/>
<rect x="1462.6" y="474.9" width="95.7" height="15.4" fill="#e2e5ef"/>
<rect x="1462.6" y="482.3" width="95.7" height="8.0" fill="#df7b04"/>
<rect x="1462.6" y="474.9" width="95.7" height="15.4" fill="none" stroke="#7d8394" stroke-opacity="0.55" stroke-width="0.8"/>
<text x="1443.6" y="490.1" font-size="21.6" text-anchor="middle" stroke="#000" stroke-width="0.45">1</text>
<text x="1568.0" y="484.9" font-size="13.5" textLength="104.5" lengthAdjust="spacingAndGlyphs" font-weight="bold">белый/оранжевый</text>
<rect x="1462.6" y="506.4" width="95.7" height="15.4" fill="#df7b04"/>
<rect x="1462.6" y="506.4" width="95.7" height="15.4" fill="none" stroke="#7d8394" stroke-opacity="0.55" stroke-width="0.8"/>
<text x="1443.6" y="521.6" font-size="21.6" text-anchor="middle" stroke="#000" stroke-width="0.45">2</text>
<text x="1568.0" y="514.5" font-size="13.5" textLength="64" lengthAdjust="spacingAndGlyphs" font-weight="bold">оранжевый</text>
<rect x="1462.6" y="538.3" width="95.7" height="15.4" fill="#e2e5ef"/>
<rect x="1462.6" y="545.7" width="95.7" height="8.0" fill="#0c7d3d"/>
<rect x="1462.6" y="538.3" width="95.7" height="15.4" fill="none" stroke="#7d8394" stroke-opacity="0.55" stroke-width="0.8"/>
<text x="1443.6" y="553.5" font-size="21.6" text-anchor="middle" stroke="#000" stroke-width="0.45">3</text>
<text x="1568.0" y="547.5" font-size="13.5" textLength="87.5" lengthAdjust="spacingAndGlyphs" font-weight="bold">белый/зеленый</text>
<rect x="1462.6" y="570.2" width="95.7" height="15.4" fill="#008fce"/>
<rect x="1462.6" y="570.2" width="95.7" height="15.4" fill="none" stroke="#7d8394" stroke-opacity="0.55" stroke-width="0.8"/>
<text x="1443.6" y="585.4" font-size="21.6" text-anchor="middle" stroke="#000" stroke-width="0.45">4</text>
<text x="1568.0" y="580.6" font-size="13.5" textLength="45.7" lengthAdjust="spacingAndGlyphs" font-weight="bold">голубой</text>
<rect x="1462.6" y="602.5" width="95.7" height="15.4" fill="#e2e5ef"/>
<rect x="1462.6" y="609.9" width="95.7" height="8.0" fill="#008fce"/>
<rect x="1462.6" y="602.5" width="95.7" height="15.4" fill="none" stroke="#7d8394" stroke-opacity="0.55" stroke-width="0.8"/>
<text x="1443.6" y="617.7" font-size="21.6" text-anchor="middle" stroke="#000" stroke-width="0.45">5</text>
<text x="1568.0" y="613.2" font-size="13.5" textLength="86.5" lengthAdjust="spacingAndGlyphs" font-weight="bold">белый/голубой</text>
<rect x="1462.6" y="633.9" width="95.7" height="15.4" fill="#0c7d3d"/>
<rect x="1462.6" y="633.9" width="95.7" height="15.4" fill="none" stroke="#7d8394" stroke-opacity="0.55" stroke-width="0.8"/>
<text x="1443.6" y="649.1" font-size="21.6" text-anchor="middle" stroke="#000" stroke-width="0.45">6</text>
<text x="1568.0" y="643.7" font-size="13.5" textLength="47" lengthAdjust="spacingAndGlyphs" font-weight="bold">зеленый</text>
<rect x="1462.6" y="665.8" width="95.7" height="15.4" fill="#e2e5ef"/>
<rect x="1462.6" y="673.2" width="95.7" height="8.0" fill="#9b6a40"/>
<rect x="1462.6" y="665.8" width="95.7" height="15.4" fill="none" stroke="#7d8394" stroke-opacity="0.55" stroke-width="0.8"/>
<text x="1443.6" y="681.0" font-size="21.6" text-anchor="middle" stroke="#000" stroke-width="0.45">7</text>
<text x="1568.0" y="677.0" font-size="13.5" textLength="109.5" lengthAdjust="spacingAndGlyphs" font-weight="bold">белый/коричневый</text>
<rect x="1462.6" y="697.4" width="95.7" height="15.4" fill="#9b6a40"/>
<rect x="1462.6" y="697.4" width="95.7" height="15.4" fill="none" stroke="#7d8394" stroke-opacity="0.55" stroke-width="0.8"/>
<text x="1443.6" y="712.6" font-size="21.6" text-anchor="middle" stroke="#000" stroke-width="0.45">8</text>
<text x="1569.5" y="708.0" font-size="13.5" textLength="67.5" lengthAdjust="spacingAndGlyphs" font-weight="bold">коричневый</text>
<text x="1523" y="756.8" font-size="17" textLength="53.3" lengthAdjust="spacingAndGlyphs" stroke="#000" stroke-width="0.35">T568B</text>
</g>
<g transform="translate(0.0,0)" fill="none" stroke="#3c3c44" stroke-width="1.3" stroke-linejoin="round">
<rect x="1063.8" y="824.5" width="47.6" height="4.8"/>
<rect x="1024.1" y="829.3" width="126.4" height="97.5" rx="2.2"/>
<rect x="1027.4" y="926.8" width="121.4" height="13.4"/>
<rect x="1025.2" y="940.1" width="125.3" height="71.8" rx="1"/>
<rect x="1051.9" y="959.3" width="74.7" height="31.1"/>
<path d="M1040.7 926.8 L1040.7 903.2 L1035.4 893.6 L1035.4 835.7 L1042.3 835.7 L1042.3 893.6 L1047.1 903.2 L1047.1 926.8" stroke-width="1.1"/>
<path d="M1053.4 926.8 L1053.4 903.2 L1047.7 893.6 L1047.7 835.7 L1054.9 835.7 L1054.9 893.6 L1059.5 903.2 L1059.5 926.8" stroke-width="1.1"/>
<path d="M1066.4 926.8 L1066.4 903.2 L1061.1 893.6 L1061.1 835.7 L1068.2 835.7 L1068.2 893.6 L1073.4 903.2 L1073.4 926.8" stroke-width="1.1"/>
<path d="M1076.6 926.8 L1076.6 903.2 L1076.6 893.6 L1076.6 835.7 L1084.6 835.7 L1084.6 893.6 L1084.6 903.2 L1084.6 926.8" stroke-width="1.1"/>
<path d="M1089.5 926.8 L1089.5 903.2 L1089.5 893.6 L1089.5 835.7 L1097.5 835.7 L1097.5 893.6 L1097.5 903.2 L1097.5 926.8" stroke-width="1.1"/>
<path d="M1100.7 926.8 L1100.7 903.2 L1106.1 893.6 L1106.1 835.7 L1112.7 835.7 L1112.7 893.6 L1107.4 903.2 L1107.4 926.8" stroke-width="1.1"/>
<path d="M1114.6 926.8 L1114.6 903.2 L1119.5 893.6 L1119.5 835.7 L1126.1 835.7 L1126.1 893.6 L1121.6 903.2 L1121.6 926.8" stroke-width="1.1"/>
<path d="M1127.0 926.8 L1127.0 903.2 L1132.3 893.6 L1132.3 835.7 L1139.3 835.7 L1139.3 893.6 L1133.9 903.2 L1133.9 926.8" stroke-width="1.1"/>
</g>
<text x="1061.8" y="980" font-size="16.5" textLength="53" lengthAdjust="spacingAndGlyphs" stroke="#000" stroke-width="0.35">T568B</text>
<text x="1034.1" y="817.5" font-size="18.7" textLength="17.3" lengthAdjust="spacingAndGlyphs" stroke="#000" stroke-width="0.45">12</text>
<text x="1060.5" y="817.5" font-size="18.7" textLength="22.2" lengthAdjust="spacingAndGlyphs" stroke="#000" stroke-width="0.45">34</text>
<text x="1088.4" y="817.5" font-size="18.7" textLength="22.0" lengthAdjust="spacingAndGlyphs" stroke="#000" stroke-width="0.45">56</text>
<text x="1117.3" y="817.5" font-size="18.7" textLength="22.0" lengthAdjust="spacingAndGlyphs" stroke="#000" stroke-width="0.45">78</text>
<g transform="translate(137.5,0)" fill="none" stroke="#3c3c44" stroke-width="1.3" stroke-linejoin="round">
<rect x="1063.8" y="824.5" width="47.6" height="4.8"/>
<rect x="1024.1" y="829.3" width="126.4" height="97.5" rx="2.2"/>
<rect x="1027.4" y="926.8" width="121.4" height="13.4"/>
<rect x="1025.2" y="940.1" width="125.3" height="71.8" rx="1"/>
<rect x="1051.9" y="959.3" width="74.7" height="31.1"/>
<path d="M1040.7 926.8 L1040.7 903.2 L1035.4 893.6 L1035.4 835.7 L1042.3 835.7 L1042.3 893.6 L1047.1 903.2 L1047.1 926.8" stroke-width="1.1"/>
<path d="M1053.4 926.8 L1053.4 903.2 L1047.7 893.6 L1047.7 835.7 L1054.9 835.7 L1054.9 893.6 L1059.5 903.2 L1059.5 926.8" stroke-width="1.1"/>
<path d="M1066.4 926.8 L1066.4 903.2 L1061.1 893.6 L1061.1 835.7 L1068.2 835.7 L1068.2 893.6 L1073.4 903.2 L1073.4 926.8" stroke-width="1.1"/>
<path d="M1076.6 926.8 L1076.6 903.2 L1076.6 893.6 L1076.6 835.7 L1084.6 835.7 L1084.6 893.6 L1084.6 903.2 L1084.6 926.8" stroke-width="1.1"/>
<path d="M1089.5 926.8 L1089.5 903.2 L1089.5 893.6 L1089.5 835.7 L1097.5 835.7 L1097.5 893.6 L1097.5 903.2 L1097.5 926.8" stroke-width="1.1"/>
<path d="M1100.7 926.8 L1100.7 903.2 L1106.1 893.6 L1106.1 835.7 L1112.7 835.7 L1112.7 893.6 L1107.4 903.2 L1107.4 926.8" stroke-width="1.1"/>
<path d="M1114.6 926.8 L1114.6 903.2 L1119.5 893.6 L1119.5 835.7 L1126.1 835.7 L1126.1 893.6 L1121.6 903.2 L1121.6 926.8" stroke-width="1.1"/>
<path d="M1127.0 926.8 L1127.0 903.2 L1132.3 893.6 L1132.3 835.7 L1139.3 835.7 L1139.3 893.6 L1133.9 903.2 L1133.9 926.8" stroke-width="1.1"/>
</g>
<text x="1199.3" y="980" font-size="16.5" textLength="53" lengthAdjust="spacingAndGlyphs" stroke="#000" stroke-width="0.35">T568B</text>
<text x="1171.6" y="817.5" font-size="18.7" textLength="17.3" lengthAdjust="spacingAndGlyphs" stroke="#000" stroke-width="0.45">12</text>
<text x="1198.0" y="817.5" font-size="18.7" textLength="22.2" lengthAdjust="spacingAndGlyphs" stroke="#000" stroke-width="0.45">34</text>
<text x="1225.9" y="817.5" font-size="18.7" textLength="22.0" lengthAdjust="spacingAndGlyphs" stroke="#000" stroke-width="0.45">56</text>
<text x="1254.8" y="817.5" font-size="18.7" textLength="22.0" lengthAdjust="spacingAndGlyphs" stroke="#000" stroke-width="0.45">78</text>
<g transform="translate(0.0,0)" fill="none" stroke="#3c3c44" stroke-width="1.3">
<path d="M1049.3 1011.9 V1125.1 H1264.4 V1011.9"/>
<path d="M1126.6 1011.9 V1075.6 H1186.7 V1011.9"/>
</g>
<text y="1096.8" font-size="15.4" stroke="#000" stroke-width="0.45"><tspan x="1078.6" textLength="62.9" lengthAdjust="spacingAndGlyphs">Прямое</tspan> <tspan x="1147.8" textLength="87.2" lengthAdjust="spacingAndGlyphs">кабельное</tspan></text>
<text x="1106.9" y="1113" font-size="15.4" textLength="99.5" lengthAdjust="spacingAndGlyphs" stroke="#000" stroke-width="0.45">соединение</text>
<g transform="translate(395.5,0)" fill="none" stroke="#3c3c44" stroke-width="1.3" stroke-linejoin="round">
<rect x="1063.8" y="824.5" width="47.6" height="4.8"/>
<rect x="1024.1" y="829.3" width="126.4" height="97.5" rx="2.2"/>
<rect x="1027.4" y="926.8" width="121.4" height="13.4"/>
<rect x="1025.2" y="940.1" width="125.3" height="71.8" rx="1"/>
<rect x="1051.9" y="959.3" width="74.7" height="31.1"/>
<path d="M1040.7 926.8 L1040.7 903.2 L1035.4 893.6 L1035.4 835.7 L1042.3 835.7 L1042.3 893.6 L1047.1 903.2 L1047.1 926.8" stroke-width="1.1"/>
<path d="M1053.4 926.8 L1053.4 903.2 L1047.7 893.6 L1047.7 835.7 L1054.9 835.7 L1054.9 893.6 L1059.5 903.2 L1059.5 926.8" stroke-width="1.1"/>
<path d="M1066.4 926.8 L1066.4 903.2 L1061.1 893.6 L1061.1 835.7 L1068.2 835.7 L1068.2 893.6 L1073.4 903.2 L1073.4 926.8" stroke-width="1.1"/>
<path d="M1076.6 926.8 L1076.6 903.2 L1076.6 893.6 L1076.6 835.7 L1084.6 835.7 L1084.6 893.6 L1084.6 903.2 L1084.6 926.8" stroke-width="1.1"/>
<path d="M1089.5 926.8 L1089.5 903.2 L1089.5 893.6 L1089.5 835.7 L1097.5 835.7 L1097.5 893.6 L1097.5 903.2 L1097.5 926.8" stroke-width="1.1"/>
<path d="M1100.7 926.8 L1100.7 903.2 L1106.1 893.6 L1106.1 835.7 L1112.7 835.7 L1112.7 893.6 L1107.4 903.2 L1107.4 926.8" stroke-width="1.1"/>
<path d="M1114.6 926.8 L1114.6 903.2 L1119.5 893.6 L1119.5 835.7 L1126.1 835.7 L1126.1 893.6 L1121.6 903.2 L1121.6 926.8" stroke-width="1.1"/>
<path d="M1127.0 926.8 L1127.0 903.2 L1132.3 893.6 L1132.3 835.7 L1139.3 835.7 L1139.3 893.6 L1133.9 903.2 L1133.9 926.8" stroke-width="1.1"/>
</g>
<text x="1457.3" y="980" font-size="16.5" textLength="53" lengthAdjust="spacingAndGlyphs" stroke="#000" stroke-width="0.35">T568A</text>
<text x="1429.6" y="817.5" font-size="18.7" textLength="17.3" lengthAdjust="spacingAndGlyphs" stroke="#000" stroke-width="0.45">12</text>
<text x="1456.0" y="817.5" font-size="18.7" textLength="22.2" lengthAdjust="spacingAndGlyphs" stroke="#000" stroke-width="0.45">34</text>
<text x="1483.9" y="817.5" font-size="18.7" textLength="22.0" lengthAdjust="spacingAndGlyphs" stroke="#000" stroke-width="0.45">56</text>
<text x="1512.8" y="817.5" font-size="18.7" textLength="22.0" lengthAdjust="spacingAndGlyphs" stroke="#000" stroke-width="0.45">78</text>
<g transform="translate(533.0,0)" fill="none" stroke="#3c3c44" stroke-width="1.3" stroke-linejoin="round">
<rect x="1063.8" y="824.5" width="47.6" height="4.8"/>
<rect x="1024.1" y="829.3" width="126.4" height="97.5" rx="2.2"/>
<rect x="1027.4" y="926.8" width="121.4" height="13.4"/>
<rect x="1025.2" y="940.1" width="125.3" height="71.8" rx="1"/>
<rect x="1051.9" y="959.3" width="74.7" height="31.1"/>
<path d="M1040.7 926.8 L1040.7 903.2 L1035.4 893.6 L1035.4 835.7 L1042.3 835.7 L1042.3 893.6 L1047.1 903.2 L1047.1 926.8" stroke-width="1.1"/>
<path d="M1053.4 926.8 L1053.4 903.2 L1047.7 893.6 L1047.7 835.7 L1054.9 835.7 L1054.9 893.6 L1059.5 903.2 L1059.5 926.8" stroke-width="1.1"/>
<path d="M1066.4 926.8 L1066.4 903.2 L1061.1 893.6 L1061.1 835.7 L1068.2 835.7 L1068.2 893.6 L1073.4 903.2 L1073.4 926.8" stroke-width="1.1"/>
<path d="M1076.6 926.8 L1076.6 903.2 L1076.6 893.6 L1076.6 835.7 L1084.6 835.7 L1084.6 893.6 L1084.6 903.2 L1084.6 926.8" stroke-width="1.1"/>
<path d="M1089.5 926.8 L1089.5 903.2 L1089.5 893.6 L1089.5 835.7 L1097.5 835.7 L1097.5 893.6 L1097.5 903.2 L1097.5 926.8" stroke-width="1.1"/>
<path d="M1100.7 926.8 L1100.7 903.2 L1106.1 893.6 L1106.1 835.7 L1112.7 835.7 L1112.7 893.6 L1107.4 903.2 L1107.4 926.8" stroke-width="1.1"/>
<path d="M1114.6 926.8 L1114.6 903.2 L1119.5 893.6 L1119.5 835.7 L1126.1 835.7 L1126.1 893.6 L1121.6 903.2 L1121.6 926.8" stroke-width="1.1"/>
<path d="M1127.0 926.8 L1127.0 903.2 L1132.3 893.6 L1132.3 835.7 L1139.3 835.7 L1139.3 893.6 L1133.9 903.2 L1133.9 926.8" stroke-width="1.1"/>
</g>
<text x="1594.8" y="980" font-size="16.5" textLength="53" lengthAdjust="spacingAndGlyphs" stroke="#000" stroke-width="0.35">T568B</text>
<text x="1567.1" y="817.5" font-size="18.7" textLength="17.3" lengthAdjust="spacingAndGlyphs" stroke="#000" stroke-width="0.45">12</text>
<text x="1593.5" y="817.5" font-size="18.7" textLength="22.2" lengthAdjust="spacingAndGlyphs" stroke="#000" stroke-width="0.45">34</text>
<text x="1621.4" y="817.5" font-size="18.7" textLength="22.0" lengthAdjust="spacingAndGlyphs" stroke="#000" stroke-width="0.45">56</text>
<text x="1650.3" y="817.5" font-size="18.7" textLength="22.0" lengthAdjust="spacingAndGlyphs" stroke="#000" stroke-width="0.45">78</text>
<g transform="translate(395.5,0)" fill="none" stroke="#3c3c44" stroke-width="1.3">
<path d="M1049.3 1011.9 V1125.1 H1264.4 V1011.9"/>
<path d="M1126.6 1011.9 V1075.6 H1186.7 V1011.9"/>
</g>
<text y="1096.8" font-size="15.4" stroke="#000" stroke-width="0.45"><tspan x="1450.2" textLength="115" lengthAdjust="spacingAndGlyphs">Перекрестное</tspan> <tspan x="1569.1" textLength="84.1" lengthAdjust="spacingAndGlyphs">кабельное</tspan></text>
<text x="1503.6" y="1113" font-size="15.4" textLength="95.9" lengthAdjust="spacingAndGlyphs" stroke="#000" stroke-width="0.45">соединение</text>
</g>
</g></svg></body></html>
